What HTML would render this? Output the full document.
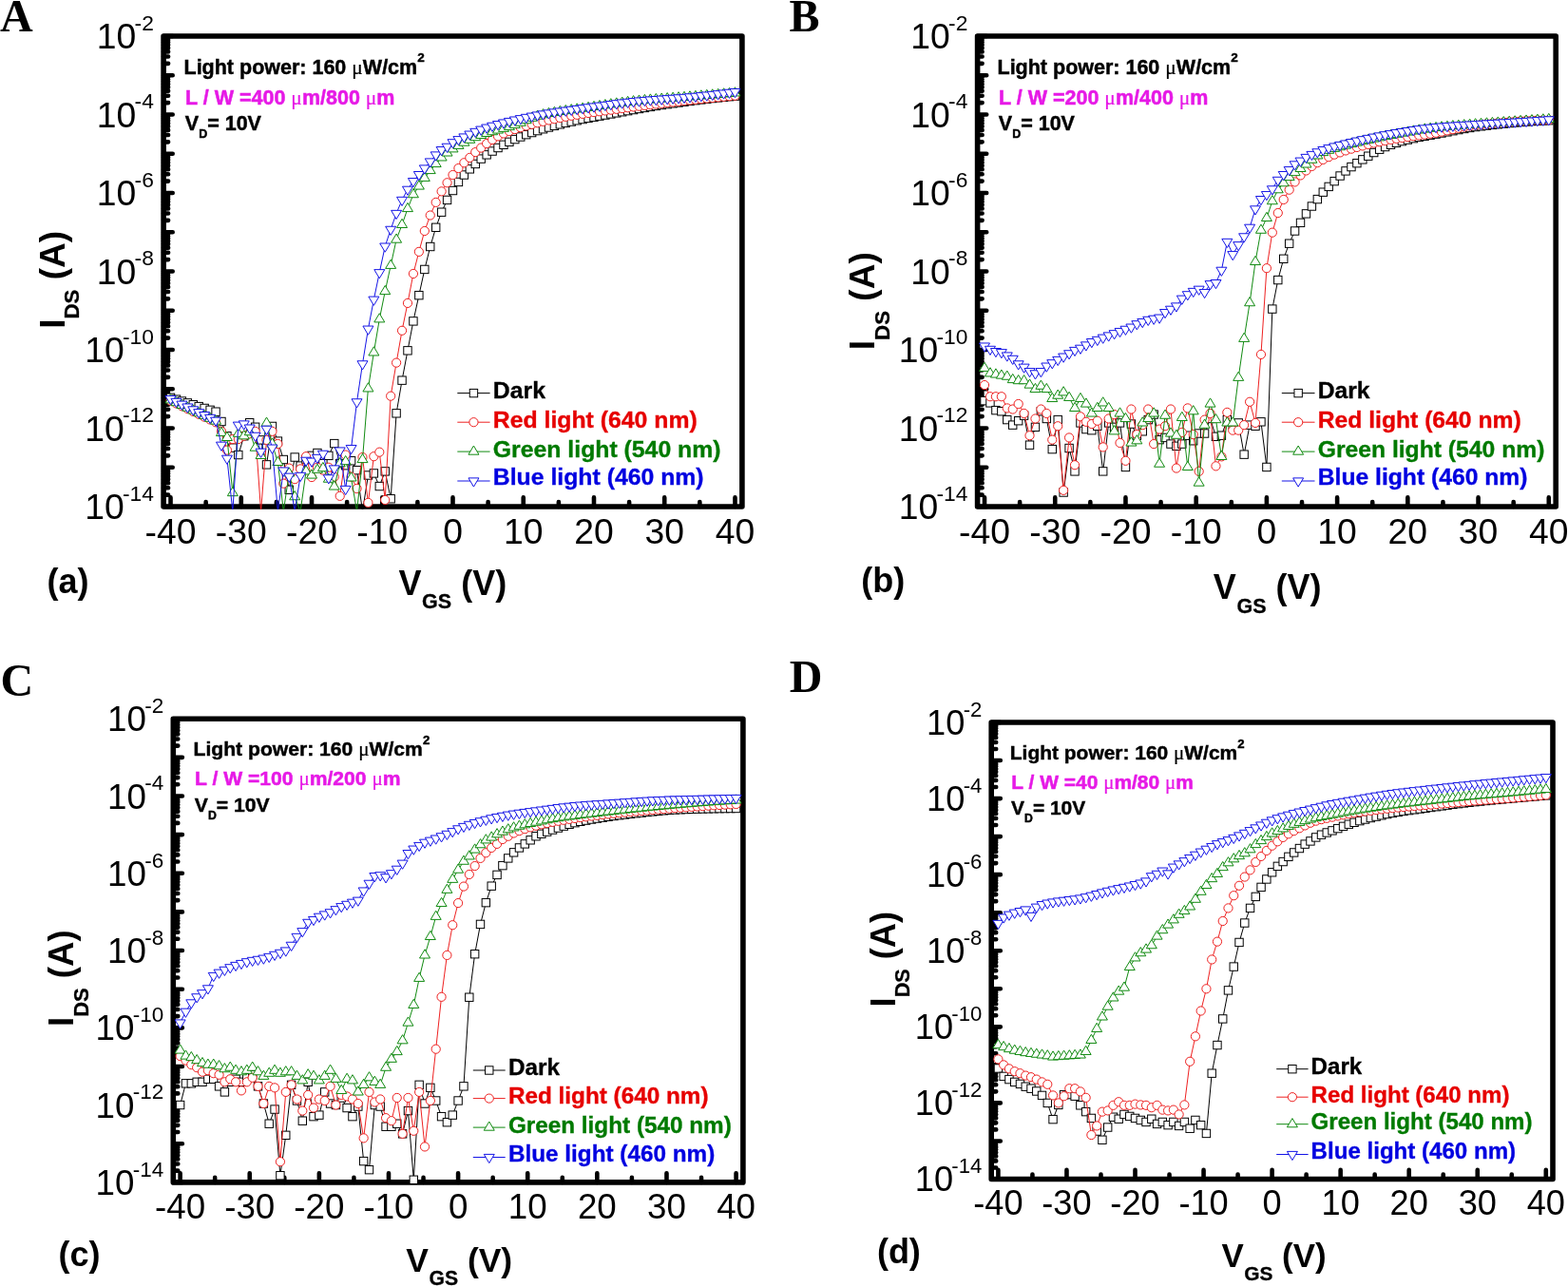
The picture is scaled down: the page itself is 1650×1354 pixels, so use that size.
<!DOCTYPE html>
<html><head><meta charset="utf-8"><title>Transfer characteristics</title>
<style>html,body{margin:0;padding:0;background:#fff;}svg{display:block;}</style></head>
<body>
<svg width="1650" height="1354" viewBox="0 0 1650 1354" font-family="Liberation Sans, Arial, sans-serif">
<rect width="1650" height="1354" fill="#fff"/>
<clipPath id="clipA"><rect x="169.3" y="35.2" width="614.4" height="500.6"/></clipPath>
<rect x="172.1" y="38" width="608.8" height="495" fill="none" stroke="#000" stroke-width="5.6" stroke-linejoin="round"/>
<path d="M172.1 533h9.6M172.1 520.58h5M172.1 513.32h5M172.1 508.17h5M172.1 504.17h5M172.1 500.9h5M172.1 498.14h5M172.1 495.75h5M172.1 493.64h5M172.1 491.75h9.6M172.1 479.33h5M172.1 472.07h5M172.1 466.92h5M172.1 462.92h5M172.1 459.65h5M172.1 456.89h5M172.1 454.5h5M172.1 452.39h5M172.1 450.5h9.6M172.1 438.08h5M172.1 430.82h5M172.1 425.67h5M172.1 421.67h5M172.1 418.4h5M172.1 415.64h5M172.1 413.25h5M172.1 411.14h5M172.1 409.25h9.6M172.1 396.83h5M172.1 389.57h5M172.1 384.42h5M172.1 380.42h5M172.1 377.15h5M172.1 374.39h5M172.1 372h5M172.1 369.89h5M172.1 368h9.6M172.1 355.58h5M172.1 348.32h5M172.1 343.17h5M172.1 339.17h5M172.1 335.9h5M172.1 333.14h5M172.1 330.75h5M172.1 328.64h5M172.1 326.75h9.6M172.1 314.33h5M172.1 307.07h5M172.1 301.92h5M172.1 297.92h5M172.1 294.65h5M172.1 291.89h5M172.1 289.5h5M172.1 287.39h5M172.1 285.5h9.6M172.1 273.08h5M172.1 265.82h5M172.1 260.67h5M172.1 256.67h5M172.1 253.4h5M172.1 250.64h5M172.1 248.25h5M172.1 246.14h5M172.1 244.25h9.6M172.1 231.83h5M172.1 224.57h5M172.1 219.42h5M172.1 215.42h5M172.1 212.15h5M172.1 209.39h5M172.1 207h5M172.1 204.89h5M172.1 203h9.6M172.1 190.58h5M172.1 183.32h5M172.1 178.17h5M172.1 174.17h5M172.1 170.9h5M172.1 168.14h5M172.1 165.75h5M172.1 163.64h5M172.1 161.75h9.6M172.1 149.33h5M172.1 142.07h5M172.1 136.92h5M172.1 132.92h5M172.1 129.65h5M172.1 126.89h5M172.1 124.5h5M172.1 122.39h5M172.1 120.5h9.6M172.1 108.08h5M172.1 100.82h5M172.1 95.67h5M172.1 91.67h5M172.1 88.4h5M172.1 85.64h5M172.1 83.25h5M172.1 81.14h5M172.1 79.25h9.6M172.1 66.83h5M172.1 59.57h5M172.1 54.42h5M172.1 50.42h5M172.1 47.15h5M172.1 44.39h5M172.1 42h5M172.1 39.89h5M172.1 38h9.6M179.52 533v-9.6M216.65 533v-5M253.77 533v-9.6M290.89 533v-5M328.01 533v-9.6M365.13 533v-5M402.26 533v-9.6M439.38 533v-5M476.5 533v-9.6M513.62 533v-5M550.74 533v-9.6M587.87 533v-5M624.99 533v-9.6M662.11 533v-5M699.23 533v-9.6M736.35 533v-5M773.48 533v-9.6" stroke="#000" stroke-width="4.6" stroke-linecap="round" fill="none"/>
<g clip-path="url(#clipA)">
<polyline fill="none" stroke="#000000" stroke-width="1" points="179.52,418.33 185.46,420.18 191.4,422.04 197.34,423.89 203.28,425.75 209.22,427.61 215.16,429.46 221.1,431.32 227.04,433.18 232.98,443.49 238.92,458.75 244.86,471.12 250.8,478.55 256.74,458.75 262.68,444.72 268.62,449.26 274.56,462.88 280.5,488.86 286.44,448.44 292.38,464.11 298.31,483.5 304.25,515.26 310.19,481.03 316.13,490.1 322.07,483.5 328.01,479.37 333.95,476.49 339.89,487.62 345.83,479.37 351.77,466.59 357.71,487.62 363.65,489.69 369.59,484.74 375.53,494.64 381.47,537.95 387.41,500 393.35,497.94 399.29,511.55 405.23,495.88 411.17,524.75 417.1,434.82 423.04,400.17 428.98,368.82 434.92,337.89 440.86,310.66 446.8,283.44 452.74,259.51 458.68,239.3 464.62,223.21 470.56,210.42 476.5,200.53 482.44,191.45 488.38,184.03 494.32,177.84 500.26,172.47 506.2,167.11 512.14,162.85 518.08,159.05 524.02,155.51 529.96,152.33 535.9,149.37 541.83,146.58 547.77,144.01 553.71,141.67 559.65,139.56 565.59,137.59 571.53,135.75 577.47,134.01 583.41,132.38 589.35,130.85 595.29,129.4 601.23,128.03 607.17,126.75 613.11,125.53 619.05,124.36 624.99,123.23 630.93,122.13 636.87,121.04 642.81,119.95 648.75,118.85 654.69,117.74 660.62,116.63 666.56,115.54 672.5,114.46 678.44,113.41 684.38,112.39 690.32,111.43 696.26,110.51 702.2,109.65 708.14,108.81 714.08,107.99 720.02,107.18 725.96,106.4 731.9,105.64 737.84,104.91 743.78,104.2 749.72,103.52 755.66,102.87 761.6,102.25 767.54,101.66 773.48,101.11"/>
<g fill="#fff" stroke="#000000" stroke-width="1"><rect x="175.32" y="414.13" width="8.4" height="8.4"/><rect x="181.26" y="415.98" width="8.4" height="8.4"/><rect x="187.2" y="417.84" width="8.4" height="8.4"/><rect x="193.14" y="419.69" width="8.4" height="8.4"/><rect x="199.08" y="421.55" width="8.4" height="8.4"/><rect x="205.02" y="423.41" width="8.4" height="8.4"/><rect x="210.96" y="425.26" width="8.4" height="8.4"/><rect x="216.9" y="427.12" width="8.4" height="8.4"/><rect x="222.84" y="428.98" width="8.4" height="8.4"/><rect x="228.78" y="439.29" width="8.4" height="8.4"/><rect x="234.72" y="454.55" width="8.4" height="8.4"/><rect x="240.66" y="466.93" width="8.4" height="8.4"/><rect x="246.6" y="474.35" width="8.4" height="8.4"/><rect x="252.54" y="454.55" width="8.4" height="8.4"/><rect x="258.48" y="440.52" width="8.4" height="8.4"/><rect x="264.42" y="445.06" width="8.4" height="8.4"/><rect x="270.36" y="458.68" width="8.4" height="8.4"/><rect x="276.3" y="484.66" width="8.4" height="8.4"/><rect x="282.24" y="444.24" width="8.4" height="8.4"/><rect x="288.18" y="459.91" width="8.4" height="8.4"/><rect x="294.11" y="479.3" width="8.4" height="8.4"/><rect x="300.05" y="511.06" width="8.4" height="8.4"/><rect x="305.99" y="476.83" width="8.4" height="8.4"/><rect x="311.93" y="485.9" width="8.4" height="8.4"/><rect x="317.87" y="479.3" width="8.4" height="8.4"/><rect x="323.81" y="475.17" width="8.4" height="8.4"/><rect x="329.75" y="472.29" width="8.4" height="8.4"/><rect x="335.69" y="483.43" width="8.4" height="8.4"/><rect x="341.63" y="475.17" width="8.4" height="8.4"/><rect x="347.57" y="462.39" width="8.4" height="8.4"/><rect x="353.51" y="483.43" width="8.4" height="8.4"/><rect x="359.45" y="485.49" width="8.4" height="8.4"/><rect x="365.39" y="480.54" width="8.4" height="8.4"/><rect x="371.33" y="490.44" width="8.4" height="8.4"/><rect x="383.21" y="495.8" width="8.4" height="8.4"/><rect x="389.15" y="493.74" width="8.4" height="8.4"/><rect x="395.09" y="507.35" width="8.4" height="8.4"/><rect x="401.03" y="491.68" width="8.4" height="8.4"/><rect x="406.97" y="520.55" width="8.4" height="8.4"/><rect x="412.9" y="430.62" width="8.4" height="8.4"/><rect x="418.84" y="395.97" width="8.4" height="8.4"/><rect x="424.78" y="364.62" width="8.4" height="8.4"/><rect x="430.72" y="333.69" width="8.4" height="8.4"/><rect x="436.66" y="306.46" width="8.4" height="8.4"/><rect x="442.6" y="279.24" width="8.4" height="8.4"/><rect x="448.54" y="255.31" width="8.4" height="8.4"/><rect x="454.48" y="235.1" width="8.4" height="8.4"/><rect x="460.42" y="219.01" width="8.4" height="8.4"/><rect x="466.36" y="206.22" width="8.4" height="8.4"/><rect x="472.3" y="196.33" width="8.4" height="8.4"/><rect x="478.24" y="187.25" width="8.4" height="8.4"/><rect x="484.18" y="179.83" width="8.4" height="8.4"/><rect x="490.12" y="173.64" width="8.4" height="8.4"/><rect x="496.06" y="168.28" width="8.4" height="8.4"/><rect x="502" y="162.91" width="8.4" height="8.4"/><rect x="507.94" y="158.65" width="8.4" height="8.4"/><rect x="513.88" y="154.85" width="8.4" height="8.4"/><rect x="519.82" y="151.31" width="8.4" height="8.4"/><rect x="525.76" y="148.13" width="8.4" height="8.4"/><rect x="531.7" y="145.17" width="8.4" height="8.4"/><rect x="537.63" y="142.38" width="8.4" height="8.4"/><rect x="543.57" y="139.81" width="8.4" height="8.4"/><rect x="549.51" y="137.47" width="8.4" height="8.4"/><rect x="555.45" y="135.36" width="8.4" height="8.4"/><rect x="561.39" y="133.39" width="8.4" height="8.4"/><rect x="567.33" y="131.55" width="8.4" height="8.4"/><rect x="573.27" y="129.81" width="8.4" height="8.4"/><rect x="579.21" y="128.18" width="8.4" height="8.4"/><rect x="585.15" y="126.65" width="8.4" height="8.4"/><rect x="591.09" y="125.2" width="8.4" height="8.4"/><rect x="597.03" y="123.83" width="8.4" height="8.4"/><rect x="602.97" y="122.55" width="8.4" height="8.4"/><rect x="608.91" y="121.33" width="8.4" height="8.4"/><rect x="614.85" y="120.16" width="8.4" height="8.4"/><rect x="620.79" y="119.03" width="8.4" height="8.4"/><rect x="626.73" y="117.93" width="8.4" height="8.4"/><rect x="632.67" y="116.84" width="8.4" height="8.4"/><rect x="638.61" y="115.75" width="8.4" height="8.4"/><rect x="644.55" y="114.65" width="8.4" height="8.4"/><rect x="650.49" y="113.54" width="8.4" height="8.4"/><rect x="656.42" y="112.43" width="8.4" height="8.4"/><rect x="662.36" y="111.34" width="8.4" height="8.4"/><rect x="668.3" y="110.26" width="8.4" height="8.4"/><rect x="674.24" y="109.21" width="8.4" height="8.4"/><rect x="680.18" y="108.19" width="8.4" height="8.4"/><rect x="686.12" y="107.23" width="8.4" height="8.4"/><rect x="692.06" y="106.31" width="8.4" height="8.4"/><rect x="698" y="105.45" width="8.4" height="8.4"/><rect x="703.94" y="104.61" width="8.4" height="8.4"/><rect x="709.88" y="103.79" width="8.4" height="8.4"/><rect x="715.82" y="102.98" width="8.4" height="8.4"/><rect x="721.76" y="102.2" width="8.4" height="8.4"/><rect x="727.7" y="101.44" width="8.4" height="8.4"/><rect x="733.64" y="100.71" width="8.4" height="8.4"/><rect x="739.58" y="100" width="8.4" height="8.4"/><rect x="745.52" y="99.32" width="8.4" height="8.4"/><rect x="751.46" y="98.67" width="8.4" height="8.4"/><rect x="757.4" y="98.05" width="8.4" height="8.4"/><rect x="763.34" y="97.46" width="8.4" height="8.4"/><rect x="769.28" y="96.91" width="8.4" height="8.4"/></g>
<polyline fill="none" stroke="#ee2020" stroke-width="1" points="179.52,421.63 185.46,424.47 191.4,427.32 197.34,430.12 203.28,432.97 209.22,435.81 215.16,438.66 221.1,441.47 227.04,444.31 232.98,453.8 238.92,473.6 244.86,462.05 250.8,462.05 256.74,458.75 262.68,456.28 268.62,453.8 274.56,537.95 280.5,462.88 286.44,453.8 292.38,467 298.31,508.66 304.25,492.57 310.19,504.13 316.13,493.4 322.07,480.2 328.01,502.06 333.95,491.75 339.89,494.64 345.83,491.75 351.77,501.65 357.71,521.86 363.65,478.55 369.59,501.65 375.53,514.02 381.47,481.03 387.41,528.88 393.35,480.2 399.29,475.66 405.23,525.99 411.17,416.67 417.1,381.61 423.04,347.79 428.98,318.91 434.92,287.98 440.86,264.87 446.8,243.01 452.74,226.51 458.68,212.9 464.62,201.35 470.56,192.27 476.5,184.03 482.44,177.01 488.38,171.24 494.32,165.87 500.26,160.1 506.2,155.56 512.14,151.05 518.08,147.02 524.02,143.38 529.96,140.48 535.9,138.11 541.83,136.04 547.77,134.18 553.71,132.46 559.65,130.84 565.59,129.29 571.53,127.83 577.47,126.46 583.41,125.17 589.35,123.96 595.29,122.84 601.23,121.79 607.17,120.8 613.11,119.87 619.05,118.97 624.99,118.11 630.93,117.28 636.87,116.46 642.81,115.65 648.75,114.83 654.69,114.02 660.62,113.23 666.56,112.45 672.5,111.69 678.44,110.94 684.38,110.21 690.32,109.5 696.26,108.8 702.2,108.11 708.14,107.44 714.08,106.77 720.02,106.11 725.96,105.46 731.9,104.82 737.84,104.2 743.78,103.58 749.72,102.98 755.66,102.39 761.6,101.81 767.54,101.25 773.48,100.7"/>
<g fill="#fff" stroke="#ee2020" stroke-width="1"><circle cx="179.52" cy="421.63" r="4.6"/><circle cx="185.46" cy="424.47" r="4.6"/><circle cx="191.4" cy="427.32" r="4.6"/><circle cx="197.34" cy="430.12" r="4.6"/><circle cx="203.28" cy="432.97" r="4.6"/><circle cx="209.22" cy="435.81" r="4.6"/><circle cx="215.16" cy="438.66" r="4.6"/><circle cx="221.1" cy="441.47" r="4.6"/><circle cx="227.04" cy="444.31" r="4.6"/><circle cx="232.98" cy="453.8" r="4.6"/><circle cx="238.92" cy="473.6" r="4.6"/><circle cx="244.86" cy="462.05" r="4.6"/><circle cx="250.8" cy="462.05" r="4.6"/><circle cx="256.74" cy="458.75" r="4.6"/><circle cx="262.68" cy="456.28" r="4.6"/><circle cx="268.62" cy="453.8" r="4.6"/><circle cx="280.5" cy="462.88" r="4.6"/><circle cx="286.44" cy="453.8" r="4.6"/><circle cx="292.38" cy="467" r="4.6"/><circle cx="298.31" cy="508.66" r="4.6"/><circle cx="304.25" cy="492.57" r="4.6"/><circle cx="310.19" cy="504.13" r="4.6"/><circle cx="316.13" cy="493.4" r="4.6"/><circle cx="322.07" cy="480.2" r="4.6"/><circle cx="328.01" cy="502.06" r="4.6"/><circle cx="333.95" cy="491.75" r="4.6"/><circle cx="339.89" cy="494.64" r="4.6"/><circle cx="345.83" cy="491.75" r="4.6"/><circle cx="351.77" cy="501.65" r="4.6"/><circle cx="357.71" cy="521.86" r="4.6"/><circle cx="363.65" cy="478.55" r="4.6"/><circle cx="369.59" cy="501.65" r="4.6"/><circle cx="375.53" cy="514.02" r="4.6"/><circle cx="381.47" cy="481.03" r="4.6"/><circle cx="387.41" cy="528.88" r="4.6"/><circle cx="393.35" cy="480.2" r="4.6"/><circle cx="399.29" cy="475.66" r="4.6"/><circle cx="405.23" cy="525.99" r="4.6"/><circle cx="411.17" cy="416.67" r="4.6"/><circle cx="417.1" cy="381.61" r="4.6"/><circle cx="423.04" cy="347.79" r="4.6"/><circle cx="428.98" cy="318.91" r="4.6"/><circle cx="434.92" cy="287.98" r="4.6"/><circle cx="440.86" cy="264.87" r="4.6"/><circle cx="446.8" cy="243.01" r="4.6"/><circle cx="452.74" cy="226.51" r="4.6"/><circle cx="458.68" cy="212.9" r="4.6"/><circle cx="464.62" cy="201.35" r="4.6"/><circle cx="470.56" cy="192.27" r="4.6"/><circle cx="476.5" cy="184.03" r="4.6"/><circle cx="482.44" cy="177.01" r="4.6"/><circle cx="488.38" cy="171.24" r="4.6"/><circle cx="494.32" cy="165.87" r="4.6"/><circle cx="500.26" cy="160.1" r="4.6"/><circle cx="506.2" cy="155.56" r="4.6"/><circle cx="512.14" cy="151.05" r="4.6"/><circle cx="518.08" cy="147.02" r="4.6"/><circle cx="524.02" cy="143.38" r="4.6"/><circle cx="529.96" cy="140.48" r="4.6"/><circle cx="535.9" cy="138.11" r="4.6"/><circle cx="541.83" cy="136.04" r="4.6"/><circle cx="547.77" cy="134.18" r="4.6"/><circle cx="553.71" cy="132.46" r="4.6"/><circle cx="559.65" cy="130.84" r="4.6"/><circle cx="565.59" cy="129.29" r="4.6"/><circle cx="571.53" cy="127.83" r="4.6"/><circle cx="577.47" cy="126.46" r="4.6"/><circle cx="583.41" cy="125.17" r="4.6"/><circle cx="589.35" cy="123.96" r="4.6"/><circle cx="595.29" cy="122.84" r="4.6"/><circle cx="601.23" cy="121.79" r="4.6"/><circle cx="607.17" cy="120.8" r="4.6"/><circle cx="613.11" cy="119.87" r="4.6"/><circle cx="619.05" cy="118.97" r="4.6"/><circle cx="624.99" cy="118.11" r="4.6"/><circle cx="630.93" cy="117.28" r="4.6"/><circle cx="636.87" cy="116.46" r="4.6"/><circle cx="642.81" cy="115.65" r="4.6"/><circle cx="648.75" cy="114.83" r="4.6"/><circle cx="654.69" cy="114.02" r="4.6"/><circle cx="660.62" cy="113.23" r="4.6"/><circle cx="666.56" cy="112.45" r="4.6"/><circle cx="672.5" cy="111.69" r="4.6"/><circle cx="678.44" cy="110.94" r="4.6"/><circle cx="684.38" cy="110.21" r="4.6"/><circle cx="690.32" cy="109.5" r="4.6"/><circle cx="696.26" cy="108.8" r="4.6"/><circle cx="702.2" cy="108.11" r="4.6"/><circle cx="708.14" cy="107.44" r="4.6"/><circle cx="714.08" cy="106.77" r="4.6"/><circle cx="720.02" cy="106.11" r="4.6"/><circle cx="725.96" cy="105.46" r="4.6"/><circle cx="731.9" cy="104.82" r="4.6"/><circle cx="737.84" cy="104.2" r="4.6"/><circle cx="743.78" cy="103.58" r="4.6"/><circle cx="749.72" cy="102.98" r="4.6"/><circle cx="755.66" cy="102.39" r="4.6"/><circle cx="761.6" cy="101.81" r="4.6"/><circle cx="767.54" cy="101.25" r="4.6"/><circle cx="773.48" cy="100.7" r="4.6"/></g>
<polyline fill="none" stroke="#108a10" stroke-width="1" points="179.52,420.8 185.46,423.61 191.4,426.37 197.34,429.13 203.28,431.94 209.22,434.7 215.16,437.51 221.1,440.27 227.04,443.07 232.98,455.45 238.92,460.4 244.86,518.56 250.8,456.28 256.74,458.75 262.68,454.62 268.62,471.12 274.56,479.37 280.5,445.14 286.44,467 292.38,486.39 298.31,537.95 304.25,497.94 310.19,522.69 316.13,537.95 322.07,495.88 328.01,500 333.95,494.23 339.89,492.57 345.83,504.13 351.77,511.96 357.71,487.62 363.65,485.56 369.59,502.89 375.53,537.95 381.47,483.5 387.41,408.84 393.35,370.89 399.29,335.82 405.23,306.54 411.17,279.31 417.1,252.09 423.04,236.41 428.98,219.5 434.92,204.65 440.86,195.99 446.8,187.33 452.74,179.49 458.68,172.47 464.62,165.87 470.56,160.93 476.5,156.8 482.44,153.32 488.38,150.11 494.32,147.19 500.26,144.6 506.2,142.36 512.14,140.41 518.08,138.64 524.02,136.97 529.96,135.29 535.9,133.51 541.83,131.52 547.77,129.17 553.71,126.62 559.65,124.17 565.59,122.12 571.53,120.65 577.47,119.44 583.41,118.36 589.35,117.4 595.29,116.53 601.23,115.7 607.17,114.91 613.11,114.12 619.05,113.29 624.99,112.42 630.93,111.54 636.87,110.66 642.81,109.79 648.75,108.95 654.69,108.15 660.62,107.39 666.56,106.69 672.5,106.06 678.44,105.5 684.38,104.99 690.32,104.52 696.26,104.07 702.2,103.65 708.14,103.22 714.08,102.79 720.02,102.35 725.96,101.88 731.9,101.39 737.84,100.89 743.78,100.39 749.72,99.89 755.66,99.38 761.6,98.86 767.54,98.34 773.48,97.81"/>
<g fill="#fff" stroke="#108a10" stroke-width="1"><path d="M179.52 414.7L185.02 423.9H174.02Z"/><path d="M185.46 417.5L190.96 426.71H179.96Z"/><path d="M191.4 420.27L196.9 429.47H185.9Z"/><path d="M197.34 423.03L202.84 432.23H191.84Z"/><path d="M203.28 425.84L208.78 435.04H197.78Z"/><path d="M209.22 428.6L214.72 437.8H203.72Z"/><path d="M215.16 431.41L220.66 440.61H209.66Z"/><path d="M221.1 434.17L226.6 443.37H215.6Z"/><path d="M227.04 436.97L232.54 446.18H221.54Z"/><path d="M232.98 449.35L238.48 458.55H227.48Z"/><path d="M238.92 454.3L244.42 463.5H233.42Z"/><path d="M244.86 512.46L250.36 521.66H239.36Z"/><path d="M250.8 450.18L256.3 459.38H245.3Z"/><path d="M256.74 452.65L262.24 461.85H251.24Z"/><path d="M262.68 448.52L268.18 457.73H257.18Z"/><path d="M268.62 465.02L274.12 474.23H263.12Z"/><path d="M274.56 473.27L280.06 482.47H269.06Z"/><path d="M280.5 439.04L286 448.24H275Z"/><path d="M286.44 460.9L291.94 470.1H280.94Z"/><path d="M292.38 480.29L297.88 489.49H286.88Z"/><path d="M304.25 491.84L309.75 501.04H298.75Z"/><path d="M310.19 516.59L315.69 525.79H304.69Z"/><path d="M322.07 489.77L327.57 498.98H316.57Z"/><path d="M328.01 493.9L333.51 503.1H322.51Z"/><path d="M333.95 488.12L339.45 497.33H328.45Z"/><path d="M339.89 486.47L345.39 495.68H334.39Z"/><path d="M345.83 498.03L351.33 507.23H340.33Z"/><path d="M351.77 505.86L357.27 515.06H346.27Z"/><path d="M357.71 481.52L363.21 490.73H352.21Z"/><path d="M363.65 479.46L369.15 488.66H358.15Z"/><path d="M369.59 496.79L375.09 505.99H364.09Z"/><path d="M381.47 477.4L386.97 486.6H375.97Z"/><path d="M387.41 402.74L392.91 411.94H381.91Z"/><path d="M393.35 364.79L398.85 373.99H387.85Z"/><path d="M399.29 329.72L404.79 338.92H393.79Z"/><path d="M405.23 300.44L410.73 309.64H399.73Z"/><path d="M411.17 273.21L416.67 282.41H405.67Z"/><path d="M417.1 245.99L422.6 255.19H411.6Z"/><path d="M423.04 230.31L428.54 239.51H417.54Z"/><path d="M428.98 213.4L434.48 222.6H423.48Z"/><path d="M434.92 198.55L440.42 207.75H429.42Z"/><path d="M440.86 189.89L446.36 199.09H435.36Z"/><path d="M446.8 181.23L452.3 190.43H441.3Z"/><path d="M452.74 173.39L458.24 182.59H447.24Z"/><path d="M458.68 166.38L464.18 175.57H453.18Z"/><path d="M464.62 159.77L470.12 168.97H459.12Z"/><path d="M470.56 154.83L476.06 164.03H465.06Z"/><path d="M476.5 150.7L482 159.9H471Z"/><path d="M482.44 147.22L487.94 156.42H476.94Z"/><path d="M488.38 144.01L493.88 153.21H482.88Z"/><path d="M494.32 141.09L499.82 150.29H488.82Z"/><path d="M500.26 138.5L505.76 147.7H494.76Z"/><path d="M506.2 136.26L511.7 145.46H500.7Z"/><path d="M512.14 134.31L517.64 143.51H506.64Z"/><path d="M518.08 132.54L523.58 141.74H512.58Z"/><path d="M524.02 130.87L529.52 140.07H518.52Z"/><path d="M529.96 129.19L535.46 138.39H524.46Z"/><path d="M535.9 127.41L541.4 136.61H530.4Z"/><path d="M541.83 125.42L547.33 134.62H536.33Z"/><path d="M547.77 123.07L553.27 132.27H542.27Z"/><path d="M553.71 120.52L559.21 129.72H548.21Z"/><path d="M559.65 118.07L565.15 127.27H554.15Z"/><path d="M565.59 116.02L571.09 125.22H560.09Z"/><path d="M571.53 114.55L577.03 123.75H566.03Z"/><path d="M577.47 113.34L582.97 122.54H571.97Z"/><path d="M583.41 112.26L588.91 121.46H577.91Z"/><path d="M589.35 111.3L594.85 120.5H583.85Z"/><path d="M595.29 110.43L600.79 119.63H589.79Z"/><path d="M601.23 109.6L606.73 118.8H595.73Z"/><path d="M607.17 108.81L612.67 118.01H601.67Z"/><path d="M613.11 108.02L618.61 117.22H607.61Z"/><path d="M619.05 107.19L624.55 116.39H613.55Z"/><path d="M624.99 106.32L630.49 115.52H619.49Z"/><path d="M630.93 105.44L636.43 114.64H625.43Z"/><path d="M636.87 104.56L642.37 113.76H631.37Z"/><path d="M642.81 103.69L648.31 112.89H637.31Z"/><path d="M648.75 102.85L654.25 112.05H643.25Z"/><path d="M654.69 102.05L660.19 111.25H649.19Z"/><path d="M660.62 101.29L666.12 110.49H655.12Z"/><path d="M666.56 100.59L672.06 109.79H661.06Z"/><path d="M672.5 99.96L678 109.16H667Z"/><path d="M678.44 99.4L683.94 108.6H672.94Z"/><path d="M684.38 98.89L689.88 108.09H678.88Z"/><path d="M690.32 98.42L695.82 107.62H684.82Z"/><path d="M696.26 97.97L701.76 107.17H690.76Z"/><path d="M702.2 97.55L707.7 106.75H696.7Z"/><path d="M708.14 97.12L713.64 106.32H702.64Z"/><path d="M714.08 96.69L719.58 105.89H708.58Z"/><path d="M720.02 96.25L725.52 105.45H714.52Z"/><path d="M725.96 95.78L731.46 104.98H720.46Z"/><path d="M731.9 95.29L737.4 104.49H726.4Z"/><path d="M737.84 94.79L743.34 103.99H732.34Z"/><path d="M743.78 94.29L749.28 103.49H738.28Z"/><path d="M749.72 93.79L755.22 102.99H744.22Z"/><path d="M755.66 93.28L761.16 102.48H750.16Z"/><path d="M761.6 92.76L767.1 101.96H756.1Z"/><path d="M767.54 92.24L773.04 101.44H762.04Z"/><path d="M773.48 91.71L778.98 100.91H767.98Z"/></g>
<polyline fill="none" stroke="#1414e6" stroke-width="1" points="179.52,419.56 185.46,422.41 191.4,425.21 197.34,428.06 203.28,430.91 209.22,433.75 215.16,436.6 221.1,439.4 227.04,442.25 232.98,468.24 238.92,482.26 244.86,537.95 250.8,447.2 256.74,445.96 262.68,450.09 268.62,458.34 274.56,475.25 280.5,451.32 286.44,471.12 292.38,537.95 298.31,495.05 304.25,501.24 310.19,537.95 316.13,500.41 322.07,484.32 328.01,485.15 333.95,481.44 339.89,477.31 345.83,502.89 351.77,492.99 357.71,474.01 363.65,514.44 369.59,471.54 375.53,422.86 381.47,382.85 387.41,346.14 393.35,315.2 399.29,286.74 405.23,259.1 411.17,241.36 417.1,224.45 423.04,210.42 428.98,199.29 434.92,190.63 440.86,183.61 446.8,177.01 452.74,170 458.68,162.99 464.62,157.62 470.56,154.33 476.5,149.79 482.44,146.7 488.38,144.01 494.32,141.12 500.26,138.42 506.2,136.18 512.14,134.17 518.08,132.32 524.02,130.62 529.96,129.03 535.9,127.51 541.83,126.08 547.77,124.71 553.71,123.42 559.65,122.19 565.59,121.05 571.53,119.97 577.47,118.96 583.41,117.99 589.35,117.07 595.29,116.19 601.23,115.34 607.17,114.51 613.11,113.68 619.05,112.87 624.99,112.05 630.93,111.22 636.87,110.4 642.81,109.59 648.75,108.8 654.69,108.05 660.62,107.34 666.56,106.67 672.5,106.06 678.44,105.52 684.38,105.03 690.32,104.58 696.26,104.15 702.2,103.73 708.14,103.31 714.08,102.87 720.02,102.39 725.96,101.87 731.9,101.3 737.84,100.7 743.78,100.08 749.72,99.42 755.66,98.75 761.6,98.04 767.54,97.32 773.48,96.57"/>
<g fill="#fff" stroke="#1414e6" stroke-width="1"><path d="M179.52 425.66L185.02 416.46H174.02Z"/><path d="M185.46 428.51L190.96 419.31H179.96Z"/><path d="M191.4 431.31L196.9 422.11H185.9Z"/><path d="M197.34 434.16L202.84 424.96H191.84Z"/><path d="M203.28 437.01L208.78 427.81H197.78Z"/><path d="M209.22 439.85L214.72 430.65H203.72Z"/><path d="M215.16 442.7L220.66 433.5H209.66Z"/><path d="M221.1 445.5L226.6 436.3H215.6Z"/><path d="M227.04 448.35L232.54 439.15H221.54Z"/><path d="M232.98 474.34L238.48 465.14H227.48Z"/><path d="M238.92 488.36L244.42 479.16H233.42Z"/><path d="M250.8 453.3L256.3 444.1H245.3Z"/><path d="M256.74 452.06L262.24 442.86H251.24Z"/><path d="M262.68 456.19L268.18 446.99H257.18Z"/><path d="M268.62 464.44L274.12 455.24H263.12Z"/><path d="M274.56 481.35L280.06 472.15H269.06Z"/><path d="M280.5 457.43L286 448.22H275Z"/><path d="M286.44 477.23L291.94 468.02H280.94Z"/><path d="M298.31 501.15L303.81 491.95H292.81Z"/><path d="M304.25 507.34L309.75 498.14H298.75Z"/><path d="M316.13 506.51L321.63 497.31H310.63Z"/><path d="M322.07 490.43L327.57 481.22H316.57Z"/><path d="M328.01 491.25L333.51 482.05H322.51Z"/><path d="M333.95 487.54L339.45 478.34H328.45Z"/><path d="M339.89 483.41L345.39 474.21H334.39Z"/><path d="M345.83 508.99L351.33 499.79H340.33Z"/><path d="M351.77 499.09L357.27 489.89H346.27Z"/><path d="M357.71 480.11L363.21 470.91H352.21Z"/><path d="M363.65 520.54L369.15 511.34H358.15Z"/><path d="M369.59 477.64L375.09 468.44H364.09Z"/><path d="M375.53 428.96L381.03 419.76H370.03Z"/><path d="M381.47 388.95L386.97 379.75H375.97Z"/><path d="M387.41 352.24L392.91 343.04H381.91Z"/><path d="M393.35 321.3L398.85 312.1H387.85Z"/><path d="M399.29 292.84L404.79 283.64H393.79Z"/><path d="M405.23 265.2L410.73 256H399.73Z"/><path d="M411.17 247.46L416.67 238.26H405.67Z"/><path d="M417.1 230.55L422.6 221.35H411.6Z"/><path d="M423.04 216.52L428.54 207.32H417.54Z"/><path d="M428.98 205.39L434.48 196.19H423.48Z"/><path d="M434.92 196.73L440.42 187.53H429.42Z"/><path d="M440.86 189.71L446.36 180.51H435.36Z"/><path d="M446.8 183.11L452.3 173.91H441.3Z"/><path d="M452.74 176.1L458.24 166.9H447.24Z"/><path d="M458.68 169.09L464.18 159.89H453.18Z"/><path d="M464.62 163.72L470.12 154.52H459.12Z"/><path d="M470.56 160.43L476.06 151.23H465.06Z"/><path d="M476.5 155.89L482 146.69H471Z"/><path d="M482.44 152.8L487.94 143.6H476.94Z"/><path d="M488.38 150.11L493.88 140.91H482.88Z"/><path d="M494.32 147.22L499.82 138.02H488.82Z"/><path d="M500.26 144.52L505.76 135.32H494.76Z"/><path d="M506.2 142.28L511.7 133.08H500.7Z"/><path d="M512.14 140.27L517.64 131.07H506.64Z"/><path d="M518.08 138.42L523.58 129.22H512.58Z"/><path d="M524.02 136.72L529.52 127.52H518.52Z"/><path d="M529.96 135.13L535.46 125.93H524.46Z"/><path d="M535.9 133.61L541.4 124.41H530.4Z"/><path d="M541.83 132.18L547.33 122.98H536.33Z"/><path d="M547.77 130.81L553.27 121.61H542.27Z"/><path d="M553.71 129.52L559.21 120.32H548.21Z"/><path d="M559.65 128.29L565.15 119.09H554.15Z"/><path d="M565.59 127.15L571.09 117.95H560.09Z"/><path d="M571.53 126.07L577.03 116.87H566.03Z"/><path d="M577.47 125.06L582.97 115.86H571.97Z"/><path d="M583.41 124.09L588.91 114.89H577.91Z"/><path d="M589.35 123.17L594.85 113.97H583.85Z"/><path d="M595.29 122.29L600.79 113.09H589.79Z"/><path d="M601.23 121.44L606.73 112.24H595.73Z"/><path d="M607.17 120.61L612.67 111.41H601.67Z"/><path d="M613.11 119.78L618.61 110.58H607.61Z"/><path d="M619.05 118.97L624.55 109.77H613.55Z"/><path d="M624.99 118.15L630.49 108.95H619.49Z"/><path d="M630.93 117.32L636.43 108.12H625.43Z"/><path d="M636.87 116.5L642.37 107.3H631.37Z"/><path d="M642.81 115.69L648.31 106.49H637.31Z"/><path d="M648.75 114.9L654.25 105.7H643.25Z"/><path d="M654.69 114.15L660.19 104.95H649.19Z"/><path d="M660.62 113.44L666.12 104.24H655.12Z"/><path d="M666.56 112.77L672.06 103.57H661.06Z"/><path d="M672.5 112.16L678 102.96H667Z"/><path d="M678.44 111.62L683.94 102.42H672.94Z"/><path d="M684.38 111.13L689.88 101.93H678.88Z"/><path d="M690.32 110.68L695.82 101.48H684.82Z"/><path d="M696.26 110.25L701.76 101.05H690.76Z"/><path d="M702.2 109.83L707.7 100.63H696.7Z"/><path d="M708.14 109.41L713.64 100.21H702.64Z"/><path d="M714.08 108.97L719.58 99.77H708.58Z"/><path d="M720.02 108.49L725.52 99.29H714.52Z"/><path d="M725.96 107.97L731.46 98.77H720.46Z"/><path d="M731.9 107.4L737.4 98.2H726.4Z"/><path d="M737.84 106.8L743.34 97.6H732.34Z"/><path d="M743.78 106.18L749.28 96.98H738.28Z"/><path d="M749.72 105.52L755.22 96.32H744.22Z"/><path d="M755.66 104.85L761.16 95.65H750.16Z"/><path d="M761.6 104.14L767.1 94.94H756.1Z"/><path d="M767.54 103.42L773.04 94.22H762.04Z"/><path d="M773.48 102.67L778.98 93.47H767.98Z"/></g>
</g>
<text x="161.9" y="51.3" text-anchor="end" font-size="37.3">10<tspan font-size="22.8" dx="-1.7" dy="-19.6">-2</tspan></text>
<text x="161.9" y="133.8" text-anchor="end" font-size="37.3">10<tspan font-size="22.8" dx="-1.7" dy="-19.6">-4</tspan></text>
<text x="161.9" y="216.3" text-anchor="end" font-size="37.3">10<tspan font-size="22.8" dx="-1.7" dy="-19.6">-6</tspan></text>
<text x="161.9" y="298.8" text-anchor="end" font-size="37.3">10<tspan font-size="22.8" dx="-1.7" dy="-19.6">-8</tspan></text>
<text x="161.9" y="381.3" text-anchor="end" font-size="37.3">10<tspan font-size="22.8" dx="-1.7" dy="-19.6">-10</tspan></text>
<text x="161.9" y="463.8" text-anchor="end" font-size="37.3">10<tspan font-size="22.8" dx="-1.7" dy="-19.6">-12</tspan></text>
<text x="161.9" y="546.3" text-anchor="end" font-size="37.3">10<tspan font-size="22.8" dx="-1.7" dy="-19.6">-14</tspan></text>
<text x="179.52" y="571.5" text-anchor="middle" font-size="37.3">-40</text>
<text x="253.77" y="571.5" text-anchor="middle" font-size="37.3">-30</text>
<text x="328.01" y="571.5" text-anchor="middle" font-size="37.3">-20</text>
<text x="402.26" y="571.5" text-anchor="middle" font-size="37.3">-10</text>
<text x="476.5" y="571.5" text-anchor="middle" font-size="37.3">0</text>
<text x="550.74" y="571.5" text-anchor="middle" font-size="37.3">10</text>
<text x="624.99" y="571.5" text-anchor="middle" font-size="37.3">20</text>
<text x="699.23" y="571.5" text-anchor="middle" font-size="37.3">30</text>
<text x="773.48" y="571.5" text-anchor="middle" font-size="37.3">40</text>
<clipPath id="clipB"><rect x="1025.8" y="35.2" width="614.2" height="500.6"/></clipPath>
<rect x="1028.6" y="38" width="608.6" height="495" fill="none" stroke="#000" stroke-width="5.6" stroke-linejoin="round"/>
<path d="M1028.6 533h9.6M1028.6 520.58h5M1028.6 513.32h5M1028.6 508.17h5M1028.6 504.17h5M1028.6 500.9h5M1028.6 498.14h5M1028.6 495.75h5M1028.6 493.64h5M1028.6 491.75h9.6M1028.6 479.33h5M1028.6 472.07h5M1028.6 466.92h5M1028.6 462.92h5M1028.6 459.65h5M1028.6 456.89h5M1028.6 454.5h5M1028.6 452.39h5M1028.6 450.5h9.6M1028.6 438.08h5M1028.6 430.82h5M1028.6 425.67h5M1028.6 421.67h5M1028.6 418.4h5M1028.6 415.64h5M1028.6 413.25h5M1028.6 411.14h5M1028.6 409.25h9.6M1028.6 396.83h5M1028.6 389.57h5M1028.6 384.42h5M1028.6 380.42h5M1028.6 377.15h5M1028.6 374.39h5M1028.6 372h5M1028.6 369.89h5M1028.6 368h9.6M1028.6 355.58h5M1028.6 348.32h5M1028.6 343.17h5M1028.6 339.17h5M1028.6 335.9h5M1028.6 333.14h5M1028.6 330.75h5M1028.6 328.64h5M1028.6 326.75h9.6M1028.6 314.33h5M1028.6 307.07h5M1028.6 301.92h5M1028.6 297.92h5M1028.6 294.65h5M1028.6 291.89h5M1028.6 289.5h5M1028.6 287.39h5M1028.6 285.5h9.6M1028.6 273.08h5M1028.6 265.82h5M1028.6 260.67h5M1028.6 256.67h5M1028.6 253.4h5M1028.6 250.64h5M1028.6 248.25h5M1028.6 246.14h5M1028.6 244.25h9.6M1028.6 231.83h5M1028.6 224.57h5M1028.6 219.42h5M1028.6 215.42h5M1028.6 212.15h5M1028.6 209.39h5M1028.6 207h5M1028.6 204.89h5M1028.6 203h9.6M1028.6 190.58h5M1028.6 183.32h5M1028.6 178.17h5M1028.6 174.17h5M1028.6 170.9h5M1028.6 168.14h5M1028.6 165.75h5M1028.6 163.64h5M1028.6 161.75h9.6M1028.6 149.33h5M1028.6 142.07h5M1028.6 136.92h5M1028.6 132.92h5M1028.6 129.65h5M1028.6 126.89h5M1028.6 124.5h5M1028.6 122.39h5M1028.6 120.5h9.6M1028.6 108.08h5M1028.6 100.82h5M1028.6 95.67h5M1028.6 91.67h5M1028.6 88.4h5M1028.6 85.64h5M1028.6 83.25h5M1028.6 81.14h5M1028.6 79.25h9.6M1028.6 66.83h5M1028.6 59.57h5M1028.6 54.42h5M1028.6 50.42h5M1028.6 47.15h5M1028.6 44.39h5M1028.6 42h5M1028.6 39.89h5M1028.6 38h9.6M1036.02 533v-9.6M1073.13 533v-5M1110.24 533v-9.6M1147.35 533v-5M1184.46 533v-9.6M1221.57 533v-5M1258.68 533v-9.6M1295.79 533v-5M1332.9 533v-9.6M1370.01 533v-5M1407.12 533v-9.6M1444.23 533v-5M1481.34 533v-9.6M1518.45 533v-5M1555.56 533v-9.6M1592.67 533v-5M1629.78 533v-9.6" stroke="#000" stroke-width="4.6" stroke-linecap="round" fill="none"/>
<g clip-path="url(#clipB)">
<polyline fill="none" stroke="#000000" stroke-width="1" points="1036.02,421.66 1041.96,423.88 1047.9,431.63 1053.83,432.74 1059.77,441.6 1065.71,447.14 1071.65,442.71 1077.58,437.17 1083.52,468.18 1089.46,449.35 1095.4,432.74 1101.34,440.49 1107.27,472.61 1113.21,441.6 1119.15,518.03 1125.09,471.51 1131.02,495.88 1136.96,444.92 1142.9,451.57 1148.84,452.68 1154.77,448.25 1160.71,495.88 1166.65,444.92 1172.59,449.35 1178.52,444.92 1184.46,491.44 1190.4,446.03 1196.34,458.21 1202.27,453.78 1208.21,441.6 1214.15,436.06 1220.09,462.64 1226.02,460.43 1231.96,467.08 1237.9,469.29 1243.84,467.08 1249.77,458.21 1255.71,463.75 1261.65,456 1267.59,456 1273.52,440.49 1279.46,459.32 1285.4,458.21 1291.34,441.6 1297.27,447.14 1303.21,444.92 1309.15,478.15 1315.09,447.14 1321.02,448.25 1326.96,443.81 1332.9,491.44 1338.84,325.1 1344.78,294.57 1350.71,272.3 1356.65,256.21 1362.59,243.01 1368.53,234.35 1374.46,224.86 1380.4,217.02 1386.34,209.6 1392.28,202.18 1398.21,196.4 1404.15,190.62 1410.09,185.03 1416.03,179.9 1421.96,175.59 1427.9,171.65 1433.84,167.86 1439.78,164.22 1445.71,160.54 1451.65,157.21 1457.59,154.52 1463.53,152.26 1469.46,150.34 1475.4,148.62 1481.34,147.07 1487.28,145.66 1493.21,144.4 1499.15,143.27 1505.09,142.2 1511.03,141.12 1516.96,140 1522.9,138.85 1528.84,137.69 1534.78,136.55 1540.71,135.46 1546.65,134.45 1552.59,133.55 1558.53,132.79 1564.46,132.09 1570.4,131.41 1576.34,130.75 1582.28,130.12 1588.22,129.52 1594.15,128.96 1600.09,128.44 1606.03,127.97 1611.97,127.56 1617.9,127.2 1623.84,126.91 1629.78,126.69"/>
<g fill="#fff" stroke="#000000" stroke-width="1"><rect x="1031.82" y="417.46" width="8.4" height="8.4"/><rect x="1037.76" y="419.68" width="8.4" height="8.4"/><rect x="1043.7" y="427.43" width="8.4" height="8.4"/><rect x="1049.63" y="428.54" width="8.4" height="8.4"/><rect x="1055.57" y="437.4" width="8.4" height="8.4"/><rect x="1061.51" y="442.94" width="8.4" height="8.4"/><rect x="1067.45" y="438.51" width="8.4" height="8.4"/><rect x="1073.38" y="432.97" width="8.4" height="8.4"/><rect x="1079.32" y="463.98" width="8.4" height="8.4"/><rect x="1085.26" y="445.15" width="8.4" height="8.4"/><rect x="1091.2" y="428.54" width="8.4" height="8.4"/><rect x="1097.14" y="436.29" width="8.4" height="8.4"/><rect x="1103.07" y="468.41" width="8.4" height="8.4"/><rect x="1109.01" y="437.4" width="8.4" height="8.4"/><rect x="1114.95" y="513.83" width="8.4" height="8.4"/><rect x="1120.89" y="467.31" width="8.4" height="8.4"/><rect x="1126.82" y="491.68" width="8.4" height="8.4"/><rect x="1132.76" y="440.72" width="8.4" height="8.4"/><rect x="1138.7" y="447.37" width="8.4" height="8.4"/><rect x="1144.64" y="448.48" width="8.4" height="8.4"/><rect x="1150.57" y="444.05" width="8.4" height="8.4"/><rect x="1156.51" y="491.68" width="8.4" height="8.4"/><rect x="1162.45" y="440.72" width="8.4" height="8.4"/><rect x="1168.39" y="445.15" width="8.4" height="8.4"/><rect x="1174.32" y="440.72" width="8.4" height="8.4"/><rect x="1180.26" y="487.24" width="8.4" height="8.4"/><rect x="1186.2" y="441.83" width="8.4" height="8.4"/><rect x="1192.14" y="454.01" width="8.4" height="8.4"/><rect x="1198.07" y="449.58" width="8.4" height="8.4"/><rect x="1204.01" y="437.4" width="8.4" height="8.4"/><rect x="1209.95" y="431.86" width="8.4" height="8.4"/><rect x="1215.89" y="458.44" width="8.4" height="8.4"/><rect x="1221.82" y="456.23" width="8.4" height="8.4"/><rect x="1227.76" y="462.88" width="8.4" height="8.4"/><rect x="1233.7" y="465.09" width="8.4" height="8.4"/><rect x="1239.64" y="462.88" width="8.4" height="8.4"/><rect x="1245.57" y="454.01" width="8.4" height="8.4"/><rect x="1251.51" y="459.55" width="8.4" height="8.4"/><rect x="1257.45" y="451.8" width="8.4" height="8.4"/><rect x="1263.39" y="451.8" width="8.4" height="8.4"/><rect x="1269.32" y="436.29" width="8.4" height="8.4"/><rect x="1275.26" y="455.12" width="8.4" height="8.4"/><rect x="1281.2" y="454.01" width="8.4" height="8.4"/><rect x="1287.14" y="437.4" width="8.4" height="8.4"/><rect x="1293.07" y="442.94" width="8.4" height="8.4"/><rect x="1299.01" y="440.72" width="8.4" height="8.4"/><rect x="1304.95" y="473.95" width="8.4" height="8.4"/><rect x="1310.89" y="442.94" width="8.4" height="8.4"/><rect x="1316.82" y="444.05" width="8.4" height="8.4"/><rect x="1322.76" y="439.61" width="8.4" height="8.4"/><rect x="1328.7" y="487.24" width="8.4" height="8.4"/><rect x="1334.64" y="320.9" width="8.4" height="8.4"/><rect x="1340.58" y="290.37" width="8.4" height="8.4"/><rect x="1346.51" y="268.1" width="8.4" height="8.4"/><rect x="1352.45" y="252.01" width="8.4" height="8.4"/><rect x="1358.39" y="238.81" width="8.4" height="8.4"/><rect x="1364.33" y="230.15" width="8.4" height="8.4"/><rect x="1370.26" y="220.66" width="8.4" height="8.4"/><rect x="1376.2" y="212.82" width="8.4" height="8.4"/><rect x="1382.14" y="205.4" width="8.4" height="8.4"/><rect x="1388.08" y="197.98" width="8.4" height="8.4"/><rect x="1394.01" y="192.2" width="8.4" height="8.4"/><rect x="1399.95" y="186.43" width="8.4" height="8.4"/><rect x="1405.89" y="180.83" width="8.4" height="8.4"/><rect x="1411.83" y="175.7" width="8.4" height="8.4"/><rect x="1417.76" y="171.39" width="8.4" height="8.4"/><rect x="1423.7" y="167.45" width="8.4" height="8.4"/><rect x="1429.64" y="163.66" width="8.4" height="8.4"/><rect x="1435.58" y="160.02" width="8.4" height="8.4"/><rect x="1441.51" y="156.34" width="8.4" height="8.4"/><rect x="1447.45" y="153.01" width="8.4" height="8.4"/><rect x="1453.39" y="150.32" width="8.4" height="8.4"/><rect x="1459.33" y="148.06" width="8.4" height="8.4"/><rect x="1465.26" y="146.14" width="8.4" height="8.4"/><rect x="1471.2" y="144.42" width="8.4" height="8.4"/><rect x="1477.14" y="142.87" width="8.4" height="8.4"/><rect x="1483.08" y="141.46" width="8.4" height="8.4"/><rect x="1489.01" y="140.2" width="8.4" height="8.4"/><rect x="1494.95" y="139.07" width="8.4" height="8.4"/><rect x="1500.89" y="138" width="8.4" height="8.4"/><rect x="1506.83" y="136.93" width="8.4" height="8.4"/><rect x="1512.76" y="135.8" width="8.4" height="8.4"/><rect x="1518.7" y="134.65" width="8.4" height="8.4"/><rect x="1524.64" y="133.49" width="8.4" height="8.4"/><rect x="1530.58" y="132.35" width="8.4" height="8.4"/><rect x="1536.51" y="131.26" width="8.4" height="8.4"/><rect x="1542.45" y="130.25" width="8.4" height="8.4"/><rect x="1548.39" y="129.35" width="8.4" height="8.4"/><rect x="1554.33" y="128.59" width="8.4" height="8.4"/><rect x="1560.26" y="127.89" width="8.4" height="8.4"/><rect x="1566.2" y="127.21" width="8.4" height="8.4"/><rect x="1572.14" y="126.55" width="8.4" height="8.4"/><rect x="1578.08" y="125.92" width="8.4" height="8.4"/><rect x="1584.02" y="125.32" width="8.4" height="8.4"/><rect x="1589.95" y="124.76" width="8.4" height="8.4"/><rect x="1595.89" y="124.24" width="8.4" height="8.4"/><rect x="1601.83" y="123.77" width="8.4" height="8.4"/><rect x="1607.77" y="123.36" width="8.4" height="8.4"/><rect x="1613.7" y="123" width="8.4" height="8.4"/><rect x="1619.64" y="122.71" width="8.4" height="8.4"/><rect x="1625.58" y="122.49" width="8.4" height="8.4"/></g>
<polyline fill="none" stroke="#ee2020" stroke-width="1" points="1036.02,405.05 1041.96,417.23 1047.9,417.23 1053.83,417.23 1059.77,429.41 1065.71,430.52 1071.65,424.98 1077.58,434.95 1083.52,458.21 1089.46,440.49 1095.4,430.52 1101.34,434.95 1107.27,462.64 1113.21,448.25 1119.15,515.81 1125.09,460.43 1131.02,489.23 1136.96,438.28 1142.9,443.81 1148.84,446.03 1154.77,442.71 1160.71,470.4 1166.65,440.49 1172.59,436.06 1178.52,465.97 1184.46,484.8 1190.4,430.52 1196.34,457.11 1202.27,447.14 1208.21,430.52 1214.15,467.08 1220.09,451.57 1226.02,448.25 1231.96,430.52 1237.9,492.55 1243.84,454.89 1249.77,429.41 1255.71,457.11 1261.65,495.88 1267.59,441.6 1273.52,434.95 1279.46,490.34 1285.4,480.37 1291.34,433.85 1297.27,452.68 1303.21,452.68 1309.15,447.14 1315.09,422.77 1321.02,444.92 1326.96,372.92 1332.9,282.2 1338.84,244.66 1344.78,224.04 1350.71,210.01 1356.65,199.7 1362.59,191.45 1368.53,184.44 1374.46,179.49 1380.4,174.95 1386.34,171.16 1392.28,167.94 1398.21,165.17 1404.15,162.67 1410.09,160.43 1416.03,158.45 1421.96,156.66 1427.9,154.98 1433.84,153.41 1439.78,151.93 1445.71,150.55 1451.65,149.25 1457.59,148.04 1463.53,146.9 1469.46,145.86 1475.4,144.93 1481.34,144.06 1487.28,143.24 1493.21,142.43 1499.15,141.6 1505.09,140.72 1511.03,139.76 1516.96,138.65 1522.9,137.4 1528.84,136.09 1534.78,134.78 1540.71,133.55 1546.65,132.45 1552.59,131.57 1558.53,130.92 1564.46,130.32 1570.4,129.73 1576.34,129.17 1582.28,128.64 1588.22,128.14 1594.15,127.69 1600.09,127.28 1606.03,126.94 1611.97,126.66 1617.9,126.45 1623.84,126.32 1629.78,126.27"/>
<g fill="#fff" stroke="#ee2020" stroke-width="1"><circle cx="1036.02" cy="405.05" r="4.6"/><circle cx="1041.96" cy="417.23" r="4.6"/><circle cx="1047.9" cy="417.23" r="4.6"/><circle cx="1053.83" cy="417.23" r="4.6"/><circle cx="1059.77" cy="429.41" r="4.6"/><circle cx="1065.71" cy="430.52" r="4.6"/><circle cx="1071.65" cy="424.98" r="4.6"/><circle cx="1077.58" cy="434.95" r="4.6"/><circle cx="1083.52" cy="458.21" r="4.6"/><circle cx="1089.46" cy="440.49" r="4.6"/><circle cx="1095.4" cy="430.52" r="4.6"/><circle cx="1101.34" cy="434.95" r="4.6"/><circle cx="1107.27" cy="462.64" r="4.6"/><circle cx="1113.21" cy="448.25" r="4.6"/><circle cx="1119.15" cy="515.81" r="4.6"/><circle cx="1125.09" cy="460.43" r="4.6"/><circle cx="1131.02" cy="489.23" r="4.6"/><circle cx="1136.96" cy="438.28" r="4.6"/><circle cx="1142.9" cy="443.81" r="4.6"/><circle cx="1148.84" cy="446.03" r="4.6"/><circle cx="1154.77" cy="442.71" r="4.6"/><circle cx="1160.71" cy="470.4" r="4.6"/><circle cx="1166.65" cy="440.49" r="4.6"/><circle cx="1172.59" cy="436.06" r="4.6"/><circle cx="1178.52" cy="465.97" r="4.6"/><circle cx="1184.46" cy="484.8" r="4.6"/><circle cx="1190.4" cy="430.52" r="4.6"/><circle cx="1196.34" cy="457.11" r="4.6"/><circle cx="1202.27" cy="447.14" r="4.6"/><circle cx="1208.21" cy="430.52" r="4.6"/><circle cx="1214.15" cy="467.08" r="4.6"/><circle cx="1220.09" cy="451.57" r="4.6"/><circle cx="1226.02" cy="448.25" r="4.6"/><circle cx="1231.96" cy="430.52" r="4.6"/><circle cx="1237.9" cy="492.55" r="4.6"/><circle cx="1243.84" cy="454.89" r="4.6"/><circle cx="1249.77" cy="429.41" r="4.6"/><circle cx="1255.71" cy="457.11" r="4.6"/><circle cx="1261.65" cy="495.88" r="4.6"/><circle cx="1267.59" cy="441.6" r="4.6"/><circle cx="1273.52" cy="434.95" r="4.6"/><circle cx="1279.46" cy="490.34" r="4.6"/><circle cx="1285.4" cy="480.37" r="4.6"/><circle cx="1291.34" cy="433.85" r="4.6"/><circle cx="1297.27" cy="452.68" r="4.6"/><circle cx="1303.21" cy="452.68" r="4.6"/><circle cx="1309.15" cy="447.14" r="4.6"/><circle cx="1315.09" cy="422.77" r="4.6"/><circle cx="1321.02" cy="444.92" r="4.6"/><circle cx="1326.96" cy="372.92" r="4.6"/><circle cx="1332.9" cy="282.2" r="4.6"/><circle cx="1338.84" cy="244.66" r="4.6"/><circle cx="1344.78" cy="224.04" r="4.6"/><circle cx="1350.71" cy="210.01" r="4.6"/><circle cx="1356.65" cy="199.7" r="4.6"/><circle cx="1362.59" cy="191.45" r="4.6"/><circle cx="1368.53" cy="184.44" r="4.6"/><circle cx="1374.46" cy="179.49" r="4.6"/><circle cx="1380.4" cy="174.95" r="4.6"/><circle cx="1386.34" cy="171.16" r="4.6"/><circle cx="1392.28" cy="167.94" r="4.6"/><circle cx="1398.21" cy="165.17" r="4.6"/><circle cx="1404.15" cy="162.67" r="4.6"/><circle cx="1410.09" cy="160.43" r="4.6"/><circle cx="1416.03" cy="158.45" r="4.6"/><circle cx="1421.96" cy="156.66" r="4.6"/><circle cx="1427.9" cy="154.98" r="4.6"/><circle cx="1433.84" cy="153.41" r="4.6"/><circle cx="1439.78" cy="151.93" r="4.6"/><circle cx="1445.71" cy="150.55" r="4.6"/><circle cx="1451.65" cy="149.25" r="4.6"/><circle cx="1457.59" cy="148.04" r="4.6"/><circle cx="1463.53" cy="146.9" r="4.6"/><circle cx="1469.46" cy="145.86" r="4.6"/><circle cx="1475.4" cy="144.93" r="4.6"/><circle cx="1481.34" cy="144.06" r="4.6"/><circle cx="1487.28" cy="143.24" r="4.6"/><circle cx="1493.21" cy="142.43" r="4.6"/><circle cx="1499.15" cy="141.6" r="4.6"/><circle cx="1505.09" cy="140.72" r="4.6"/><circle cx="1511.03" cy="139.76" r="4.6"/><circle cx="1516.96" cy="138.65" r="4.6"/><circle cx="1522.9" cy="137.4" r="4.6"/><circle cx="1528.84" cy="136.09" r="4.6"/><circle cx="1534.78" cy="134.78" r="4.6"/><circle cx="1540.71" cy="133.55" r="4.6"/><circle cx="1546.65" cy="132.45" r="4.6"/><circle cx="1552.59" cy="131.57" r="4.6"/><circle cx="1558.53" cy="130.92" r="4.6"/><circle cx="1564.46" cy="130.32" r="4.6"/><circle cx="1570.4" cy="129.73" r="4.6"/><circle cx="1576.34" cy="129.17" r="4.6"/><circle cx="1582.28" cy="128.64" r="4.6"/><circle cx="1588.22" cy="128.14" r="4.6"/><circle cx="1594.15" cy="127.69" r="4.6"/><circle cx="1600.09" cy="127.28" r="4.6"/><circle cx="1606.03" cy="126.94" r="4.6"/><circle cx="1611.97" cy="126.66" r="4.6"/><circle cx="1617.9" cy="126.45" r="4.6"/><circle cx="1623.84" cy="126.32" r="4.6"/><circle cx="1629.78" cy="126.27" r="4.6"/></g>
<polyline fill="none" stroke="#108a10" stroke-width="1" points="1036.02,387.32 1041.96,392.86 1047.9,393.97 1053.83,395.08 1059.77,396.18 1065.71,399.51 1071.65,400.61 1077.58,400.61 1083.52,405.05 1089.46,409.48 1095.4,406.15 1101.34,409.48 1107.27,419.45 1113.21,416.12 1119.15,412.8 1125.09,418.34 1131.02,429.41 1136.96,419.45 1142.9,424.98 1148.84,434.95 1154.77,429.41 1160.71,423.88 1166.65,429.41 1172.59,453.78 1178.52,434.95 1184.46,440.49 1190.4,465.97 1196.34,463.75 1202.27,444.92 1208.21,440.49 1214.15,434.95 1220.09,488.12 1226.02,437.17 1231.96,456 1237.9,458.21 1243.84,439.38 1249.77,491.44 1255.71,432.74 1261.65,508.06 1267.59,447.14 1273.52,424.98 1279.46,441.6 1285.4,480.37 1291.34,444.92 1297.27,444.92 1303.21,397.29 1309.15,356.31 1315.09,318.65 1321.02,275.45 1326.96,242.19 1332.9,229.4 1338.84,211.66 1344.78,199.7 1350.71,192.69 1356.65,186.5 1362.59,181.55 1368.53,177.42 1374.46,172.92 1380.4,168.18 1386.34,163.83 1392.28,160.51 1398.21,158.2 1404.15,156.3 1410.09,154.66 1416.03,153.09 1421.96,151.54 1427.9,150.06 1433.84,148.64 1439.78,147.28 1445.71,145.98 1451.65,144.73 1457.59,143.52 1463.53,142.36 1469.46,141.22 1475.4,140.09 1481.34,138.98 1487.28,137.92 1493.21,136.92 1499.15,136 1505.09,135.17 1511.03,134.44 1516.96,133.8 1522.9,133.22 1528.84,132.68 1534.78,132.18 1540.71,131.71 1546.65,131.25 1552.59,130.8 1558.53,130.34 1564.46,129.9 1570.4,129.47 1576.34,129.05 1582.28,128.65 1588.22,128.25 1594.15,127.85 1600.09,127.45 1606.03,127.05 1611.97,126.65 1617.9,126.25 1623.84,125.85 1629.78,125.45"/>
<g fill="#fff" stroke="#108a10" stroke-width="1"><path d="M1036.02 381.22L1041.52 390.42H1030.52Z"/><path d="M1041.96 386.76L1047.46 395.96H1036.46Z"/><path d="M1047.9 387.87L1053.4 397.07H1042.4Z"/><path d="M1053.83 388.98L1059.33 398.18H1048.33Z"/><path d="M1059.77 390.08L1065.27 399.28H1054.27Z"/><path d="M1065.71 393.41L1071.21 402.61H1060.21Z"/><path d="M1071.65 394.51L1077.15 403.71H1066.15Z"/><path d="M1077.58 394.51L1083.08 403.71H1072.08Z"/><path d="M1083.52 398.95L1089.02 408.15H1078.02Z"/><path d="M1089.46 403.38L1094.96 412.58H1083.96Z"/><path d="M1095.4 400.05L1100.9 409.25H1089.9Z"/><path d="M1101.34 403.38L1106.84 412.58H1095.84Z"/><path d="M1107.27 413.35L1112.77 422.55H1101.77Z"/><path d="M1113.21 410.02L1118.71 419.22H1107.71Z"/><path d="M1119.15 406.7L1124.65 415.9H1113.65Z"/><path d="M1125.09 412.24L1130.59 421.44H1119.59Z"/><path d="M1131.02 423.31L1136.52 432.51H1125.52Z"/><path d="M1136.96 413.35L1142.46 422.55H1131.46Z"/><path d="M1142.9 418.88L1148.4 428.08H1137.4Z"/><path d="M1148.84 428.85L1154.34 438.05H1143.34Z"/><path d="M1154.77 423.31L1160.27 432.51H1149.27Z"/><path d="M1160.71 417.78L1166.21 426.98H1155.21Z"/><path d="M1166.65 423.31L1172.15 432.51H1161.15Z"/><path d="M1172.59 447.68L1178.09 456.88H1167.09Z"/><path d="M1178.52 428.85L1184.02 438.05H1173.02Z"/><path d="M1184.46 434.39L1189.96 443.59H1178.96Z"/><path d="M1190.4 459.87L1195.9 469.07H1184.9Z"/><path d="M1196.34 457.65L1201.84 466.85H1190.84Z"/><path d="M1202.27 438.82L1207.77 448.02H1196.77Z"/><path d="M1208.21 434.39L1213.71 443.59H1202.71Z"/><path d="M1214.15 428.85L1219.65 438.05H1208.65Z"/><path d="M1220.09 482.02L1225.59 491.22H1214.59Z"/><path d="M1226.02 431.07L1231.52 440.27H1220.52Z"/><path d="M1231.96 449.9L1237.46 459.1H1226.46Z"/><path d="M1237.9 452.11L1243.4 461.31H1232.4Z"/><path d="M1243.84 433.28L1249.34 442.48H1238.34Z"/><path d="M1249.77 485.34L1255.27 494.54H1244.27Z"/><path d="M1255.71 426.64L1261.21 435.84H1250.21Z"/><path d="M1261.65 501.96L1267.15 511.16H1256.15Z"/><path d="M1267.59 441.04L1273.09 450.24H1262.09Z"/><path d="M1273.52 418.88L1279.02 428.08H1268.02Z"/><path d="M1279.46 435.5L1284.96 444.7H1273.96Z"/><path d="M1285.4 474.27L1290.9 483.47H1279.9Z"/><path d="M1291.34 438.82L1296.84 448.02H1285.84Z"/><path d="M1297.27 438.82L1302.77 448.02H1291.77Z"/><path d="M1303.21 391.19L1308.71 400.39H1297.71Z"/><path d="M1309.15 350.21L1314.65 359.41H1303.65Z"/><path d="M1315.09 312.55L1320.59 321.75H1309.59Z"/><path d="M1321.02 269.35L1326.52 278.55H1315.52Z"/><path d="M1326.96 236.09L1332.46 245.29H1321.46Z"/><path d="M1332.9 223.3L1338.4 232.5H1327.4Z"/><path d="M1338.84 205.56L1344.34 214.76H1333.34Z"/><path d="M1344.78 193.6L1350.28 202.8H1339.28Z"/><path d="M1350.71 186.59L1356.21 195.79H1345.21Z"/><path d="M1356.65 180.4L1362.15 189.6H1351.15Z"/><path d="M1362.59 175.45L1368.09 184.65H1357.09Z"/><path d="M1368.53 171.32L1374.03 180.52H1363.03Z"/><path d="M1374.46 166.82L1379.96 176.02H1368.96Z"/><path d="M1380.4 162.08L1385.9 171.28H1374.9Z"/><path d="M1386.34 157.73L1391.84 166.93H1380.84Z"/><path d="M1392.28 154.41L1397.78 163.61H1386.78Z"/><path d="M1398.21 152.1L1403.71 161.3H1392.71Z"/><path d="M1404.15 150.2L1409.65 159.4H1398.65Z"/><path d="M1410.09 148.56L1415.59 157.76H1404.59Z"/><path d="M1416.03 146.99L1421.53 156.19H1410.53Z"/><path d="M1421.96 145.44L1427.46 154.64H1416.46Z"/><path d="M1427.9 143.96L1433.4 153.16H1422.4Z"/><path d="M1433.84 142.54L1439.34 151.74H1428.34Z"/><path d="M1439.78 141.18L1445.28 150.38H1434.28Z"/><path d="M1445.71 139.88L1451.21 149.08H1440.21Z"/><path d="M1451.65 138.63L1457.15 147.83H1446.15Z"/><path d="M1457.59 137.42L1463.09 146.62H1452.09Z"/><path d="M1463.53 136.26L1469.03 145.46H1458.03Z"/><path d="M1469.46 135.12L1474.96 144.32H1463.96Z"/><path d="M1475.4 133.99L1480.9 143.19H1469.9Z"/><path d="M1481.34 132.88L1486.84 142.08H1475.84Z"/><path d="M1487.28 131.82L1492.78 141.02H1481.78Z"/><path d="M1493.21 130.82L1498.71 140.02H1487.71Z"/><path d="M1499.15 129.9L1504.65 139.1H1493.65Z"/><path d="M1505.09 129.07L1510.59 138.27H1499.59Z"/><path d="M1511.03 128.34L1516.53 137.54H1505.53Z"/><path d="M1516.96 127.7L1522.46 136.9H1511.46Z"/><path d="M1522.9 127.12L1528.4 136.32H1517.4Z"/><path d="M1528.84 126.58L1534.34 135.78H1523.34Z"/><path d="M1534.78 126.08L1540.28 135.28H1529.28Z"/><path d="M1540.71 125.61L1546.21 134.81H1535.21Z"/><path d="M1546.65 125.15L1552.15 134.35H1541.15Z"/><path d="M1552.59 124.7L1558.09 133.9H1547.09Z"/><path d="M1558.53 124.24L1564.03 133.44H1553.03Z"/><path d="M1564.46 123.8L1569.96 133H1558.96Z"/><path d="M1570.4 123.37L1575.9 132.57H1564.9Z"/><path d="M1576.34 122.95L1581.84 132.15H1570.84Z"/><path d="M1582.28 122.55L1587.78 131.75H1576.78Z"/><path d="M1588.22 122.15L1593.72 131.35H1582.72Z"/><path d="M1594.15 121.75L1599.65 130.95H1588.65Z"/><path d="M1600.09 121.35L1605.59 130.55H1594.59Z"/><path d="M1606.03 120.95L1611.53 130.15H1600.53Z"/><path d="M1611.97 120.55L1617.47 129.75H1606.47Z"/><path d="M1617.9 120.15L1623.4 129.35H1612.4Z"/><path d="M1623.84 119.75L1629.34 128.95H1618.34Z"/><path d="M1629.78 119.35L1635.28 128.55H1624.28Z"/></g>
<polyline fill="none" stroke="#1414e6" stroke-width="1" points="1036.02,364.06 1041.96,367.38 1047.9,369.6 1053.83,370.71 1059.77,374.03 1065.71,377.35 1071.65,382.89 1077.58,386.21 1083.52,390.65 1089.46,392.86 1095.4,390.65 1101.34,385.11 1107.27,381.78 1113.21,378.46 1119.15,375.14 1125.09,371.82 1131.02,368.49 1136.96,366.28 1142.9,362.95 1148.84,359.63 1154.77,357.42 1160.71,355.2 1166.65,352.98 1172.59,350.77 1178.52,348.55 1184.46,346.34 1190.4,344.12 1196.34,340.8 1202.27,338.58 1208.21,336.37 1214.15,335.26 1220.09,334.15 1226.02,328.62 1231.96,325.29 1237.9,321.97 1243.84,314.22 1249.77,309.79 1255.71,306.46 1261.65,304.25 1267.59,307.57 1273.52,298.71 1279.46,297.6 1285.4,284.31 1291.34,254.4 1297.27,267.69 1303.21,257.72 1309.15,248.86 1315.09,239.3 1321.02,219.91 1326.96,209.6 1332.9,204.65 1338.84,198.87 1344.78,189.39 1350.71,183.61 1356.65,178.66 1362.59,172.89 1368.53,169.17 1374.46,165.46 1380.4,162.48 1386.34,159.86 1392.28,157.62 1398.21,155.72 1404.15,154.04 1410.09,152.5 1416.03,151.03 1421.96,149.57 1427.9,148.16 1433.84,146.78 1439.78,145.45 1445.71,144.18 1451.65,142.96 1457.59,141.8 1463.53,140.71 1469.46,139.66 1475.4,138.63 1481.34,137.62 1487.28,136.67 1493.21,135.77 1499.15,134.96 1505.09,134.24 1511.03,133.63 1516.96,133.11 1522.9,132.64 1528.84,132.21 1534.78,131.82 1540.71,131.45 1546.65,131.09 1552.59,130.73 1558.53,130.35 1564.46,129.98 1570.4,129.61 1576.34,129.26 1582.28,128.91 1588.22,128.56 1594.15,128.2 1600.09,127.84 1606.03,127.46 1611.97,127.08 1617.9,126.68 1623.84,126.27 1629.78,125.86"/>
<g fill="#fff" stroke="#1414e6" stroke-width="1"><path d="M1036.02 370.16L1041.52 360.96H1030.52Z"/><path d="M1041.96 373.48L1047.46 364.28H1036.46Z"/><path d="M1047.9 375.7L1053.4 366.5H1042.4Z"/><path d="M1053.83 376.81L1059.33 367.61H1048.33Z"/><path d="M1059.77 380.13L1065.27 370.93H1054.27Z"/><path d="M1065.71 383.45L1071.21 374.25H1060.21Z"/><path d="M1071.65 388.99L1077.15 379.79H1066.15Z"/><path d="M1077.58 392.31L1083.08 383.11H1072.08Z"/><path d="M1083.52 396.75L1089.02 387.55H1078.02Z"/><path d="M1089.46 398.96L1094.96 389.76H1083.96Z"/><path d="M1095.4 396.75L1100.9 387.55H1089.9Z"/><path d="M1101.34 391.21L1106.84 382.01H1095.84Z"/><path d="M1107.27 387.88L1112.77 378.68H1101.77Z"/><path d="M1113.21 384.56L1118.71 375.36H1107.71Z"/><path d="M1119.15 381.24L1124.65 372.04H1113.65Z"/><path d="M1125.09 377.92L1130.59 368.72H1119.59Z"/><path d="M1131.02 374.59L1136.52 365.39H1125.52Z"/><path d="M1136.96 372.38L1142.46 363.18H1131.46Z"/><path d="M1142.9 369.05L1148.4 359.85H1137.4Z"/><path d="M1148.84 365.73L1154.34 356.53H1143.34Z"/><path d="M1154.77 363.52L1160.27 354.32H1149.27Z"/><path d="M1160.71 361.3L1166.21 352.1H1155.21Z"/><path d="M1166.65 359.08L1172.15 349.88H1161.15Z"/><path d="M1172.59 356.87L1178.09 347.67H1167.09Z"/><path d="M1178.52 354.65L1184.02 345.45H1173.02Z"/><path d="M1184.46 352.44L1189.96 343.24H1178.96Z"/><path d="M1190.4 350.22L1195.9 341.02H1184.9Z"/><path d="M1196.34 346.9L1201.84 337.7H1190.84Z"/><path d="M1202.27 344.68L1207.77 335.48H1196.77Z"/><path d="M1208.21 342.47L1213.71 333.27H1202.71Z"/><path d="M1214.15 341.36L1219.65 332.16H1208.65Z"/><path d="M1220.09 340.25L1225.59 331.05H1214.59Z"/><path d="M1226.02 334.72L1231.52 325.52H1220.52Z"/><path d="M1231.96 331.39L1237.46 322.19H1226.46Z"/><path d="M1237.9 328.07L1243.4 318.87H1232.4Z"/><path d="M1243.84 320.32L1249.34 311.12H1238.34Z"/><path d="M1249.77 315.89L1255.27 306.69H1244.27Z"/><path d="M1255.71 312.56L1261.21 303.36H1250.21Z"/><path d="M1261.65 310.35L1267.15 301.15H1256.15Z"/><path d="M1267.59 313.67L1273.09 304.47H1262.09Z"/><path d="M1273.52 304.81L1279.02 295.61H1268.02Z"/><path d="M1279.46 303.7L1284.96 294.5H1273.96Z"/><path d="M1285.4 290.41L1290.9 281.21H1279.9Z"/><path d="M1291.34 260.5L1296.84 251.3H1285.84Z"/><path d="M1297.27 273.79L1302.77 264.59H1291.77Z"/><path d="M1303.21 263.82L1308.71 254.62H1297.71Z"/><path d="M1309.15 254.96L1314.65 245.76H1303.65Z"/><path d="M1315.09 245.4L1320.59 236.2H1309.59Z"/><path d="M1321.02 226.01L1326.52 216.81H1315.52Z"/><path d="M1326.96 215.7L1332.46 206.5H1321.46Z"/><path d="M1332.9 210.75L1338.4 201.55H1327.4Z"/><path d="M1338.84 204.97L1344.34 195.77H1333.34Z"/><path d="M1344.78 195.49L1350.28 186.29H1339.28Z"/><path d="M1350.71 189.71L1356.21 180.51H1345.21Z"/><path d="M1356.65 184.76L1362.15 175.56H1351.15Z"/><path d="M1362.59 178.99L1368.09 169.79H1357.09Z"/><path d="M1368.53 175.27L1374.03 166.07H1363.03Z"/><path d="M1374.46 171.56L1379.96 162.36H1368.96Z"/><path d="M1380.4 168.58L1385.9 159.38H1374.9Z"/><path d="M1386.34 165.96L1391.84 156.76H1380.84Z"/><path d="M1392.28 163.72L1397.78 154.53H1386.78Z"/><path d="M1398.21 161.82L1403.71 152.62H1392.71Z"/><path d="M1404.15 160.14L1409.65 150.94H1398.65Z"/><path d="M1410.09 158.6L1415.59 149.4H1404.59Z"/><path d="M1416.03 157.12L1421.53 147.93H1410.53Z"/><path d="M1421.96 155.67L1427.46 146.47H1416.46Z"/><path d="M1427.9 154.26L1433.4 145.06H1422.4Z"/><path d="M1433.84 152.88L1439.34 143.68H1428.34Z"/><path d="M1439.78 151.55L1445.28 142.35H1434.28Z"/><path d="M1445.71 150.28L1451.21 141.08H1440.21Z"/><path d="M1451.65 149.06L1457.15 139.86H1446.15Z"/><path d="M1457.59 147.9L1463.09 138.7H1452.09Z"/><path d="M1463.53 146.81L1469.03 137.61H1458.03Z"/><path d="M1469.46 145.76L1474.96 136.56H1463.96Z"/><path d="M1475.4 144.73L1480.9 135.53H1469.9Z"/><path d="M1481.34 143.72L1486.84 134.52H1475.84Z"/><path d="M1487.28 142.77L1492.78 133.57H1481.78Z"/><path d="M1493.21 141.87L1498.71 132.67H1487.71Z"/><path d="M1499.15 141.06L1504.65 131.86H1493.65Z"/><path d="M1505.09 140.34L1510.59 131.14H1499.59Z"/><path d="M1511.03 139.73L1516.53 130.53H1505.53Z"/><path d="M1516.96 139.21L1522.46 130.01H1511.46Z"/><path d="M1522.9 138.74L1528.4 129.54H1517.4Z"/><path d="M1528.84 138.31L1534.34 129.11H1523.34Z"/><path d="M1534.78 137.92L1540.28 128.72H1529.28Z"/><path d="M1540.71 137.55L1546.21 128.35H1535.21Z"/><path d="M1546.65 137.19L1552.15 127.99H1541.15Z"/><path d="M1552.59 136.83L1558.09 127.63H1547.09Z"/><path d="M1558.53 136.45L1564.03 127.25H1553.03Z"/><path d="M1564.46 136.08L1569.96 126.88H1558.96Z"/><path d="M1570.4 135.71L1575.9 126.51H1564.9Z"/><path d="M1576.34 135.36L1581.84 126.16H1570.84Z"/><path d="M1582.28 135.01L1587.78 125.81H1576.78Z"/><path d="M1588.22 134.66L1593.72 125.46H1582.72Z"/><path d="M1594.15 134.3L1599.65 125.1H1588.65Z"/><path d="M1600.09 133.94L1605.59 124.74H1594.59Z"/><path d="M1606.03 133.56L1611.53 124.36H1600.53Z"/><path d="M1611.97 133.18L1617.47 123.98H1606.47Z"/><path d="M1617.9 132.78L1623.4 123.58H1612.4Z"/><path d="M1623.84 132.37L1629.34 123.17H1618.34Z"/><path d="M1629.78 131.96L1635.28 122.76H1624.28Z"/></g>
</g>
<text x="1018.4" y="51.3" text-anchor="end" font-size="37.3">10<tspan font-size="22.8" dx="-1.7" dy="-19.6">-2</tspan></text>
<text x="1018.4" y="133.8" text-anchor="end" font-size="37.3">10<tspan font-size="22.8" dx="-1.7" dy="-19.6">-4</tspan></text>
<text x="1018.4" y="216.3" text-anchor="end" font-size="37.3">10<tspan font-size="22.8" dx="-1.7" dy="-19.6">-6</tspan></text>
<text x="1018.4" y="298.8" text-anchor="end" font-size="37.3">10<tspan font-size="22.8" dx="-1.7" dy="-19.6">-8</tspan></text>
<text x="1018.4" y="381.3" text-anchor="end" font-size="37.3">10<tspan font-size="22.8" dx="-1.7" dy="-19.6">-10</tspan></text>
<text x="1018.4" y="463.8" text-anchor="end" font-size="37.3">10<tspan font-size="22.8" dx="-1.7" dy="-19.6">-12</tspan></text>
<text x="1018.4" y="546.3" text-anchor="end" font-size="37.3">10<tspan font-size="22.8" dx="-1.7" dy="-19.6">-14</tspan></text>
<text x="1036.02" y="571.5" text-anchor="middle" font-size="37.3">-40</text>
<text x="1110.24" y="571.5" text-anchor="middle" font-size="37.3">-30</text>
<text x="1184.46" y="571.5" text-anchor="middle" font-size="37.3">-20</text>
<text x="1258.68" y="571.5" text-anchor="middle" font-size="37.3">-10</text>
<text x="1332.9" y="571.5" text-anchor="middle" font-size="37.3">0</text>
<text x="1407.12" y="571.5" text-anchor="middle" font-size="37.3">10</text>
<text x="1481.34" y="571.5" text-anchor="middle" font-size="37.3">20</text>
<text x="1555.56" y="571.5" text-anchor="middle" font-size="37.3">30</text>
<text x="1629.78" y="571.5" text-anchor="middle" font-size="37.3">40</text>
<clipPath id="clipC"><rect x="179.5" y="753.4" width="605.2" height="493.3"/></clipPath>
<rect x="182.3" y="756.2" width="599.6" height="487.7" fill="none" stroke="#000" stroke-width="5.6" stroke-linejoin="round"/>
<path d="M182.3 1243.9h9.6M182.3 1231.67h5M182.3 1224.51h5M182.3 1219.43h5M182.3 1215.49h5M182.3 1212.27h5M182.3 1209.55h5M182.3 1207.2h5M182.3 1205.12h5M182.3 1203.26h9.6M182.3 1191.02h5M182.3 1183.87h5M182.3 1178.79h5M182.3 1174.85h5M182.3 1171.63h5M182.3 1168.91h5M182.3 1166.56h5M182.3 1164.48h5M182.3 1162.62h9.6M182.3 1150.38h5M182.3 1143.23h5M182.3 1138.15h5M182.3 1134.21h5M182.3 1130.99h5M182.3 1128.27h5M182.3 1125.91h5M182.3 1123.83h5M182.3 1121.98h9.6M182.3 1109.74h5M182.3 1102.58h5M182.3 1097.51h5M182.3 1093.57h5M182.3 1090.35h5M182.3 1087.63h5M182.3 1085.27h5M182.3 1083.19h5M182.3 1081.33h9.6M182.3 1069.1h5M182.3 1061.94h5M182.3 1056.86h5M182.3 1052.93h5M182.3 1049.71h5M182.3 1046.99h5M182.3 1044.63h5M182.3 1042.55h5M182.3 1040.69h9.6M182.3 1028.46h5M182.3 1021.3h5M182.3 1016.22h5M182.3 1012.28h5M182.3 1009.07h5M182.3 1006.35h5M182.3 1003.99h5M182.3 1001.91h5M182.3 1000.05h9.6M182.3 987.82h5M182.3 980.66h5M182.3 975.58h5M182.3 971.64h5M182.3 968.42h5M182.3 965.7h5M182.3 963.35h5M182.3 961.27h5M182.3 959.41h9.6M182.3 947.17h5M182.3 940.02h5M182.3 934.94h5M182.3 931h5M182.3 927.78h5M182.3 925.06h5M182.3 922.71h5M182.3 920.63h5M182.3 918.77h9.6M182.3 906.53h5M182.3 899.38h5M182.3 894.3h5M182.3 890.36h5M182.3 887.14h5M182.3 884.42h5M182.3 882.06h5M182.3 879.98h5M182.3 878.12h9.6M182.3 865.89h5M182.3 858.73h5M182.3 853.66h5M182.3 849.72h5M182.3 846.5h5M182.3 843.78h5M182.3 841.42h5M182.3 839.34h5M182.3 837.48h9.6M182.3 825.25h5M182.3 818.09h5M182.3 813.01h5M182.3 809.08h5M182.3 805.86h5M182.3 803.14h5M182.3 800.78h5M182.3 798.7h5M182.3 796.84h9.6M182.3 784.61h5M182.3 777.45h5M182.3 772.37h5M182.3 768.43h5M182.3 765.22h5M182.3 762.5h5M182.3 760.14h5M182.3 758.06h5M182.3 756.2h9.6M189.61 1243.9v-9.6M226.17 1243.9v-5M262.73 1243.9v-9.6M299.3 1243.9v-5M335.86 1243.9v-9.6M372.42 1243.9v-5M408.98 1243.9v-9.6M445.54 1243.9v-5M482.1 1243.9v-9.6M518.66 1243.9v-5M555.22 1243.9v-9.6M591.78 1243.9v-5M628.34 1243.9v-9.6M664.9 1243.9v-5M701.47 1243.9v-9.6M738.03 1243.9v-5M774.59 1243.9v-9.6" stroke="#000" stroke-width="4.6" stroke-linecap="round" fill="none"/>
<g clip-path="url(#clipC)">
<polyline fill="none" stroke="#000000" stroke-width="1" points="189.61,1162.53 195.46,1139.82 201.31,1139.82 207.16,1138.3 213.01,1138.3 218.86,1135.28 224.71,1135.28 230.56,1142.85 236.41,1148.9 242.26,1138.3 248.11,1135.28 253.96,1138.3 259.81,1133.76 265.66,1130.73 271.51,1142.85 277.36,1161.02 283.21,1182.22 289.06,1167.07 294.91,1236.73 300.76,1194.33 306.61,1141.33 312.46,1157.99 318.31,1179.19 324.16,1138.3 330.01,1174.65 335.86,1173.13 341.71,1148.9 347.56,1161.02 353.41,1162.53 359.26,1154.96 365.1,1165.56 370.95,1174.65 376.8,1164.05 382.65,1221.59 388.5,1230.67 394.35,1162.53 400.2,1164.05 406.05,1185.25 411.9,1185.25 417.75,1182.22 423.6,1192.82 429.45,1168.59 435.3,1241.27 441.15,1141.33 447,1161.02 452.85,1144.36 458.7,1157.99 464.55,1174.65 470.4,1180.7 476.25,1173.13 482.1,1157.99 487.95,1142.85 493.8,1049.23 499.65,1003.71 505.5,972.41 511.35,949.65 517.2,932.18 523.05,920.39 528.9,910.64 534.75,902.92 540.6,896.82 546.45,891.94 552.3,887.88 558.15,883.81 564,879.75 569.85,877.31 575.7,875.1 581.55,873.02 587.4,871.05 593.25,869.12 599.1,867.29 604.94,865.66 610.79,864.29 616.64,863.09 622.49,862.02 628.34,861.06 634.19,860.15 640.04,859.29 645.89,858.48 651.74,857.71 657.59,856.99 663.44,856.31 669.29,855.67 675.14,855.07 680.99,854.46 686.84,853.87 692.69,853.3 698.54,852.78 704.39,852.33 710.24,851.97 716.09,851.71 721.94,851.51 727.79,851.32 733.64,851.15 739.49,850.99 745.34,850.85 751.19,850.73 757.04,850.63 762.89,850.55 768.74,850.5 774.59,850.49"/>
<g fill="#fff" stroke="#000000" stroke-width="1"><rect x="185.41" y="1158.33" width="8.4" height="8.4"/><rect x="191.26" y="1135.62" width="8.4" height="8.4"/><rect x="197.11" y="1135.62" width="8.4" height="8.4"/><rect x="202.96" y="1134.1" width="8.4" height="8.4"/><rect x="208.81" y="1134.1" width="8.4" height="8.4"/><rect x="214.66" y="1131.08" width="8.4" height="8.4"/><rect x="220.51" y="1131.08" width="8.4" height="8.4"/><rect x="226.36" y="1138.65" width="8.4" height="8.4"/><rect x="232.21" y="1144.7" width="8.4" height="8.4"/><rect x="238.06" y="1134.1" width="8.4" height="8.4"/><rect x="243.91" y="1131.08" width="8.4" height="8.4"/><rect x="249.76" y="1134.1" width="8.4" height="8.4"/><rect x="255.61" y="1129.56" width="8.4" height="8.4"/><rect x="261.46" y="1126.53" width="8.4" height="8.4"/><rect x="267.31" y="1138.65" width="8.4" height="8.4"/><rect x="273.16" y="1156.82" width="8.4" height="8.4"/><rect x="279.01" y="1178.02" width="8.4" height="8.4"/><rect x="284.86" y="1162.87" width="8.4" height="8.4"/><rect x="290.71" y="1232.53" width="8.4" height="8.4"/><rect x="296.56" y="1190.13" width="8.4" height="8.4"/><rect x="302.41" y="1137.13" width="8.4" height="8.4"/><rect x="308.26" y="1153.79" width="8.4" height="8.4"/><rect x="314.11" y="1174.99" width="8.4" height="8.4"/><rect x="319.96" y="1134.1" width="8.4" height="8.4"/><rect x="325.81" y="1170.45" width="8.4" height="8.4"/><rect x="331.66" y="1168.93" width="8.4" height="8.4"/><rect x="337.51" y="1144.7" width="8.4" height="8.4"/><rect x="343.36" y="1156.82" width="8.4" height="8.4"/><rect x="349.21" y="1158.33" width="8.4" height="8.4"/><rect x="355.06" y="1150.76" width="8.4" height="8.4"/><rect x="360.9" y="1161.36" width="8.4" height="8.4"/><rect x="366.75" y="1170.45" width="8.4" height="8.4"/><rect x="372.6" y="1159.85" width="8.4" height="8.4"/><rect x="378.45" y="1217.39" width="8.4" height="8.4"/><rect x="384.3" y="1226.47" width="8.4" height="8.4"/><rect x="390.15" y="1158.33" width="8.4" height="8.4"/><rect x="396" y="1159.85" width="8.4" height="8.4"/><rect x="401.85" y="1181.05" width="8.4" height="8.4"/><rect x="407.7" y="1181.05" width="8.4" height="8.4"/><rect x="413.55" y="1178.02" width="8.4" height="8.4"/><rect x="419.4" y="1188.62" width="8.4" height="8.4"/><rect x="425.25" y="1164.39" width="8.4" height="8.4"/><rect x="431.1" y="1237.07" width="8.4" height="8.4"/><rect x="436.95" y="1137.13" width="8.4" height="8.4"/><rect x="442.8" y="1156.82" width="8.4" height="8.4"/><rect x="448.65" y="1140.16" width="8.4" height="8.4"/><rect x="454.5" y="1153.79" width="8.4" height="8.4"/><rect x="460.35" y="1170.45" width="8.4" height="8.4"/><rect x="466.2" y="1176.5" width="8.4" height="8.4"/><rect x="472.05" y="1168.93" width="8.4" height="8.4"/><rect x="477.9" y="1153.79" width="8.4" height="8.4"/><rect x="483.75" y="1138.65" width="8.4" height="8.4"/><rect x="489.6" y="1045.03" width="8.4" height="8.4"/><rect x="495.45" y="999.51" width="8.4" height="8.4"/><rect x="501.3" y="968.21" width="8.4" height="8.4"/><rect x="507.15" y="945.45" width="8.4" height="8.4"/><rect x="513" y="927.98" width="8.4" height="8.4"/><rect x="518.85" y="916.19" width="8.4" height="8.4"/><rect x="524.7" y="906.44" width="8.4" height="8.4"/><rect x="530.55" y="898.72" width="8.4" height="8.4"/><rect x="536.4" y="892.62" width="8.4" height="8.4"/><rect x="542.25" y="887.74" width="8.4" height="8.4"/><rect x="548.1" y="883.68" width="8.4" height="8.4"/><rect x="553.95" y="879.61" width="8.4" height="8.4"/><rect x="559.8" y="875.55" width="8.4" height="8.4"/><rect x="565.65" y="873.11" width="8.4" height="8.4"/><rect x="571.5" y="870.9" width="8.4" height="8.4"/><rect x="577.35" y="868.82" width="8.4" height="8.4"/><rect x="583.2" y="866.85" width="8.4" height="8.4"/><rect x="589.05" y="864.92" width="8.4" height="8.4"/><rect x="594.9" y="863.09" width="8.4" height="8.4"/><rect x="600.74" y="861.46" width="8.4" height="8.4"/><rect x="606.59" y="860.09" width="8.4" height="8.4"/><rect x="612.44" y="858.89" width="8.4" height="8.4"/><rect x="618.29" y="857.82" width="8.4" height="8.4"/><rect x="624.14" y="856.86" width="8.4" height="8.4"/><rect x="629.99" y="855.95" width="8.4" height="8.4"/><rect x="635.84" y="855.09" width="8.4" height="8.4"/><rect x="641.69" y="854.28" width="8.4" height="8.4"/><rect x="647.54" y="853.51" width="8.4" height="8.4"/><rect x="653.39" y="852.79" width="8.4" height="8.4"/><rect x="659.24" y="852.11" width="8.4" height="8.4"/><rect x="665.09" y="851.47" width="8.4" height="8.4"/><rect x="670.94" y="850.87" width="8.4" height="8.4"/><rect x="676.79" y="850.26" width="8.4" height="8.4"/><rect x="682.64" y="849.67" width="8.4" height="8.4"/><rect x="688.49" y="849.1" width="8.4" height="8.4"/><rect x="694.34" y="848.58" width="8.4" height="8.4"/><rect x="700.19" y="848.13" width="8.4" height="8.4"/><rect x="706.04" y="847.77" width="8.4" height="8.4"/><rect x="711.89" y="847.51" width="8.4" height="8.4"/><rect x="717.74" y="847.31" width="8.4" height="8.4"/><rect x="723.59" y="847.12" width="8.4" height="8.4"/><rect x="729.44" y="846.95" width="8.4" height="8.4"/><rect x="735.29" y="846.79" width="8.4" height="8.4"/><rect x="741.14" y="846.65" width="8.4" height="8.4"/><rect x="746.99" y="846.53" width="8.4" height="8.4"/><rect x="752.84" y="846.43" width="8.4" height="8.4"/><rect x="758.69" y="846.35" width="8.4" height="8.4"/><rect x="764.54" y="846.3" width="8.4" height="8.4"/><rect x="770.39" y="846.29" width="8.4" height="8.4"/></g>
<polyline fill="none" stroke="#ee2020" stroke-width="1" points="189.61,1111.05 195.46,1115.59 201.31,1120.13 207.16,1123.16 213.01,1127.7 218.86,1126.19 224.71,1129.22 230.56,1130.73 236.41,1138.3 242.26,1135.28 248.11,1138.3 253.96,1147.39 259.81,1138.3 265.66,1133.76 271.51,1142.85 277.36,1161.02 283.21,1142.85 289.06,1144.36 294.91,1222.19 300.76,1148.9 306.61,1141.33 312.46,1156.48 318.31,1168.59 324.16,1151.93 330.01,1165.56 335.86,1156.48 341.71,1157.99 347.56,1142.85 353.41,1162.53 359.26,1151.93 365.1,1153.45 370.95,1156.48 376.8,1161.02 382.65,1197.36 388.5,1148.9 394.35,1159.5 400.2,1156.48 406.05,1176.16 411.9,1179.19 417.75,1154.96 423.6,1192.82 429.45,1154.96 435.3,1189.79 441.15,1148.9 447,1206.44 452.85,1157.99 458.7,1103.69 464.55,1048.82 470.4,1004.93 476.25,973.23 482.1,950.06 487.95,932.58 493.8,919.99 499.65,911.04 505.5,902.92 511.35,897.23 517.2,891.94 523.05,887.88 528.9,883 534.75,879.75 540.6,876.5 546.45,874.14 552.3,872.13 558.15,870.37 564,868.78 569.85,867.33 575.7,866.02 581.55,864.85 587.4,863.79 593.25,862.78 599.1,861.84 604.94,860.94 610.79,860.09 616.64,859.29 622.49,858.53 628.34,857.8 634.19,857.11 640.04,856.46 645.89,855.83 651.74,855.23 657.59,854.66 663.44,854.11 669.29,853.59 675.14,853.08 680.99,852.59 686.84,852.09 692.69,851.61 698.54,851.13 704.39,850.67 710.24,850.21 716.09,849.76 721.94,849.32 727.79,848.9 733.64,848.49 739.49,848.09 745.34,847.7 751.19,847.33 757.04,846.98 762.89,846.64 768.74,846.32 774.59,846.02"/>
<g fill="#fff" stroke="#ee2020" stroke-width="1"><circle cx="189.61" cy="1111.05" r="4.6"/><circle cx="195.46" cy="1115.59" r="4.6"/><circle cx="201.31" cy="1120.13" r="4.6"/><circle cx="207.16" cy="1123.16" r="4.6"/><circle cx="213.01" cy="1127.7" r="4.6"/><circle cx="218.86" cy="1126.19" r="4.6"/><circle cx="224.71" cy="1129.22" r="4.6"/><circle cx="230.56" cy="1130.73" r="4.6"/><circle cx="236.41" cy="1138.3" r="4.6"/><circle cx="242.26" cy="1135.28" r="4.6"/><circle cx="248.11" cy="1138.3" r="4.6"/><circle cx="253.96" cy="1147.39" r="4.6"/><circle cx="259.81" cy="1138.3" r="4.6"/><circle cx="265.66" cy="1133.76" r="4.6"/><circle cx="271.51" cy="1142.85" r="4.6"/><circle cx="277.36" cy="1161.02" r="4.6"/><circle cx="283.21" cy="1142.85" r="4.6"/><circle cx="289.06" cy="1144.36" r="4.6"/><circle cx="294.91" cy="1222.19" r="4.6"/><circle cx="300.76" cy="1148.9" r="4.6"/><circle cx="306.61" cy="1141.33" r="4.6"/><circle cx="312.46" cy="1156.48" r="4.6"/><circle cx="318.31" cy="1168.59" r="4.6"/><circle cx="324.16" cy="1151.93" r="4.6"/><circle cx="330.01" cy="1165.56" r="4.6"/><circle cx="335.86" cy="1156.48" r="4.6"/><circle cx="341.71" cy="1157.99" r="4.6"/><circle cx="347.56" cy="1142.85" r="4.6"/><circle cx="353.41" cy="1162.53" r="4.6"/><circle cx="359.26" cy="1151.93" r="4.6"/><circle cx="365.1" cy="1153.45" r="4.6"/><circle cx="370.95" cy="1156.48" r="4.6"/><circle cx="376.8" cy="1161.02" r="4.6"/><circle cx="382.65" cy="1197.36" r="4.6"/><circle cx="388.5" cy="1148.9" r="4.6"/><circle cx="394.35" cy="1159.5" r="4.6"/><circle cx="400.2" cy="1156.48" r="4.6"/><circle cx="406.05" cy="1176.16" r="4.6"/><circle cx="411.9" cy="1179.19" r="4.6"/><circle cx="417.75" cy="1154.96" r="4.6"/><circle cx="423.6" cy="1192.82" r="4.6"/><circle cx="429.45" cy="1154.96" r="4.6"/><circle cx="435.3" cy="1189.79" r="4.6"/><circle cx="441.15" cy="1148.9" r="4.6"/><circle cx="447" cy="1206.44" r="4.6"/><circle cx="452.85" cy="1157.99" r="4.6"/><circle cx="458.7" cy="1103.69" r="4.6"/><circle cx="464.55" cy="1048.82" r="4.6"/><circle cx="470.4" cy="1004.93" r="4.6"/><circle cx="476.25" cy="973.23" r="4.6"/><circle cx="482.1" cy="950.06" r="4.6"/><circle cx="487.95" cy="932.58" r="4.6"/><circle cx="493.8" cy="919.99" r="4.6"/><circle cx="499.65" cy="911.04" r="4.6"/><circle cx="505.5" cy="902.92" r="4.6"/><circle cx="511.35" cy="897.23" r="4.6"/><circle cx="517.2" cy="891.94" r="4.6"/><circle cx="523.05" cy="887.88" r="4.6"/><circle cx="528.9" cy="883" r="4.6"/><circle cx="534.75" cy="879.75" r="4.6"/><circle cx="540.6" cy="876.5" r="4.6"/><circle cx="546.45" cy="874.14" r="4.6"/><circle cx="552.3" cy="872.13" r="4.6"/><circle cx="558.15" cy="870.37" r="4.6"/><circle cx="564" cy="868.78" r="4.6"/><circle cx="569.85" cy="867.33" r="4.6"/><circle cx="575.7" cy="866.02" r="4.6"/><circle cx="581.55" cy="864.85" r="4.6"/><circle cx="587.4" cy="863.79" r="4.6"/><circle cx="593.25" cy="862.78" r="4.6"/><circle cx="599.1" cy="861.84" r="4.6"/><circle cx="604.94" cy="860.94" r="4.6"/><circle cx="610.79" cy="860.09" r="4.6"/><circle cx="616.64" cy="859.29" r="4.6"/><circle cx="622.49" cy="858.53" r="4.6"/><circle cx="628.34" cy="857.8" r="4.6"/><circle cx="634.19" cy="857.11" r="4.6"/><circle cx="640.04" cy="856.46" r="4.6"/><circle cx="645.89" cy="855.83" r="4.6"/><circle cx="651.74" cy="855.23" r="4.6"/><circle cx="657.59" cy="854.66" r="4.6"/><circle cx="663.44" cy="854.11" r="4.6"/><circle cx="669.29" cy="853.59" r="4.6"/><circle cx="675.14" cy="853.08" r="4.6"/><circle cx="680.99" cy="852.59" r="4.6"/><circle cx="686.84" cy="852.09" r="4.6"/><circle cx="692.69" cy="851.61" r="4.6"/><circle cx="698.54" cy="851.13" r="4.6"/><circle cx="704.39" cy="850.67" r="4.6"/><circle cx="710.24" cy="850.21" r="4.6"/><circle cx="716.09" cy="849.76" r="4.6"/><circle cx="721.94" cy="849.32" r="4.6"/><circle cx="727.79" cy="848.9" r="4.6"/><circle cx="733.64" cy="848.49" r="4.6"/><circle cx="739.49" cy="848.09" r="4.6"/><circle cx="745.34" cy="847.7" r="4.6"/><circle cx="751.19" cy="847.33" r="4.6"/><circle cx="757.04" cy="846.98" r="4.6"/><circle cx="762.89" cy="846.64" r="4.6"/><circle cx="768.74" cy="846.32" r="4.6"/><circle cx="774.59" cy="846.02" r="4.6"/></g>
<polyline fill="none" stroke="#108a10" stroke-width="1" points="189.61,1104.99 195.46,1111.04 201.31,1112.55 207.16,1115.59 213.01,1118.6 218.86,1120.15 224.71,1120.15 230.56,1121.65 236.41,1124.66 242.26,1123.15 248.11,1126.2 253.96,1127.71 259.81,1126.2 265.66,1123.15 271.51,1127.71 277.36,1132.26 283.21,1129.21 289.06,1126.2 294.91,1129.21 300.76,1127.71 306.61,1127.71 312.46,1132.26 318.31,1136.81 324.16,1130.75 330.01,1132.26 335.86,1136.81 341.71,1132.26 347.56,1126.2 353.41,1135.26 359.26,1147.38 365.1,1135.26 370.95,1136.81 376.8,1148.92 382.65,1141.32 388.5,1133.76 394.35,1138.31 400.2,1141.32 406.05,1123.19 411.9,1114.25 417.75,1106.53 423.6,1094.75 429.45,1076.05 435.3,1057.35 441.15,1029.31 447,1004.93 452.85,985.42 458.7,964.29 464.55,950.47 470.4,936.24 476.25,925.27 482.1,915.11 487.95,906.17 493.8,900.88 499.65,893.98 505.5,888.69 511.35,883.81 517.2,880.97 523.05,877.72 528.9,875.09 534.75,872.77 540.6,870.81 546.45,869.16 552.3,867.71 558.15,866.39 564,865.12 569.85,863.86 575.7,862.65 581.55,861.55 587.4,860.59 593.25,859.73 599.1,858.92 604.94,858.17 610.79,857.45 616.64,856.75 622.49,856.06 628.34,855.37 634.19,854.67 640.04,853.99 645.89,853.33 651.74,852.67 657.59,852.03 663.44,851.41 669.29,850.79 675.14,850.19 680.99,849.59 686.84,849 692.69,848.42 698.54,847.84 704.39,847.29 710.24,846.75 716.09,846.23 721.94,845.73 727.79,845.26 733.64,844.79 739.49,844.34 745.34,843.91 751.19,843.48 757.04,843.08 762.89,842.69 768.74,842.31 774.59,841.95"/>
<g fill="#fff" stroke="#108a10" stroke-width="1"><path d="M189.61 1098.89L195.11 1108.09H184.11Z"/><path d="M195.46 1104.94L200.96 1114.14H189.96Z"/><path d="M201.31 1106.45L206.81 1115.65H195.81Z"/><path d="M207.16 1109.49L212.66 1118.69H201.66Z"/><path d="M213.01 1112.5L218.51 1121.7H207.51Z"/><path d="M218.86 1114.05L224.36 1123.25H213.36Z"/><path d="M224.71 1114.05L230.21 1123.25H219.21Z"/><path d="M230.56 1115.55L236.06 1124.75H225.06Z"/><path d="M236.41 1118.56L241.91 1127.76H230.91Z"/><path d="M242.26 1117.05L247.76 1126.25H236.76Z"/><path d="M248.11 1120.1L253.61 1129.3H242.61Z"/><path d="M253.96 1121.61L259.46 1130.81H248.46Z"/><path d="M259.81 1120.1L265.31 1129.3H254.31Z"/><path d="M265.66 1117.05L271.16 1126.25H260.16Z"/><path d="M271.51 1121.61L277.01 1130.81H266.01Z"/><path d="M277.36 1126.16L282.86 1135.36H271.86Z"/><path d="M283.21 1123.11L288.71 1132.31H277.71Z"/><path d="M289.06 1120.1L294.56 1129.3H283.56Z"/><path d="M294.91 1123.11L300.41 1132.31H289.41Z"/><path d="M300.76 1121.61L306.26 1130.81H295.26Z"/><path d="M306.61 1121.61L312.11 1130.81H301.11Z"/><path d="M312.46 1126.16L317.96 1135.36H306.96Z"/><path d="M318.31 1130.71L323.81 1139.91H312.81Z"/><path d="M324.16 1124.65L329.66 1133.85H318.66Z"/><path d="M330.01 1126.16L335.51 1135.36H324.51Z"/><path d="M335.86 1130.71L341.36 1139.91H330.36Z"/><path d="M341.71 1126.16L347.21 1135.36H336.21Z"/><path d="M347.56 1120.1L353.06 1129.3H342.06Z"/><path d="M353.41 1129.16L358.91 1138.36H347.91Z"/><path d="M359.26 1141.28L364.76 1150.48H353.76Z"/><path d="M365.1 1129.16L370.6 1138.36H359.6Z"/><path d="M370.95 1130.71L376.45 1139.91H365.45Z"/><path d="M376.8 1142.82L382.3 1152.02H371.3Z"/><path d="M382.65 1135.22L388.15 1144.42H377.15Z"/><path d="M388.5 1127.66L394 1136.86H383Z"/><path d="M394.35 1132.21L399.85 1141.41H388.85Z"/><path d="M400.2 1135.22L405.7 1144.42H394.7Z"/><path d="M406.05 1117.09L411.55 1126.29H400.55Z"/><path d="M411.9 1108.15L417.4 1117.35H406.4Z"/><path d="M417.75 1100.43L423.25 1109.63H412.25Z"/><path d="M423.6 1088.65L429.1 1097.85H418.1Z"/><path d="M429.45 1069.95L434.95 1079.15H423.95Z"/><path d="M435.3 1051.25L440.8 1060.45H429.8Z"/><path d="M441.15 1023.21L446.65 1032.41H435.65Z"/><path d="M447 998.83L452.5 1008.03H441.5Z"/><path d="M452.85 979.32L458.35 988.52H447.35Z"/><path d="M458.7 958.19L464.2 967.39H453.2Z"/><path d="M464.55 944.37L470.05 953.57H459.05Z"/><path d="M470.4 930.14L475.9 939.34H464.9Z"/><path d="M476.25 919.17L481.75 928.37H470.75Z"/><path d="M482.1 909.01L487.6 918.21H476.6Z"/><path d="M487.95 900.07L493.45 909.27H482.45Z"/><path d="M493.8 894.78L499.3 903.98H488.3Z"/><path d="M499.65 887.88L505.15 897.08H494.15Z"/><path d="M505.5 882.59L511 891.79H500Z"/><path d="M511.35 877.71L516.85 886.91H505.85Z"/><path d="M517.2 874.87L522.7 884.07H511.7Z"/><path d="M523.05 871.62L528.55 880.82H517.55Z"/><path d="M528.9 868.99L534.4 878.19H523.4Z"/><path d="M534.75 866.67L540.25 875.87H529.25Z"/><path d="M540.6 864.71L546.1 873.91H535.1Z"/><path d="M546.45 863.06L551.95 872.26H540.95Z"/><path d="M552.3 861.61L557.8 870.81H546.8Z"/><path d="M558.15 860.29L563.65 869.49H552.65Z"/><path d="M564 859.02L569.5 868.22H558.5Z"/><path d="M569.85 857.76L575.35 866.96H564.35Z"/><path d="M575.7 856.55L581.2 865.75H570.2Z"/><path d="M581.55 855.45L587.05 864.65H576.05Z"/><path d="M587.4 854.49L592.9 863.69H581.9Z"/><path d="M593.25 853.63L598.75 862.83H587.75Z"/><path d="M599.1 852.82L604.6 862.02H593.6Z"/><path d="M604.94 852.07L610.44 861.27H599.44Z"/><path d="M610.79 851.35L616.29 860.55H605.29Z"/><path d="M616.64 850.65L622.14 859.85H611.14Z"/><path d="M622.49 849.96L627.99 859.16H616.99Z"/><path d="M628.34 849.27L633.84 858.47H622.84Z"/><path d="M634.19 848.57L639.69 857.77H628.69Z"/><path d="M640.04 847.89L645.54 857.09H634.54Z"/><path d="M645.89 847.23L651.39 856.43H640.39Z"/><path d="M651.74 846.57L657.24 855.77H646.24Z"/><path d="M657.59 845.93L663.09 855.13H652.09Z"/><path d="M663.44 845.31L668.94 854.51H657.94Z"/><path d="M669.29 844.69L674.79 853.89H663.79Z"/><path d="M675.14 844.09L680.64 853.29H669.64Z"/><path d="M680.99 843.49L686.49 852.69H675.49Z"/><path d="M686.84 842.9L692.34 852.1H681.34Z"/><path d="M692.69 842.32L698.19 851.52H687.19Z"/><path d="M698.54 841.74L704.04 850.94H693.04Z"/><path d="M704.39 841.19L709.89 850.39H698.89Z"/><path d="M710.24 840.65L715.74 849.85H704.74Z"/><path d="M716.09 840.13L721.59 849.33H710.59Z"/><path d="M721.94 839.63L727.44 848.83H716.44Z"/><path d="M727.79 839.16L733.29 848.36H722.29Z"/><path d="M733.64 838.69L739.14 847.89H728.14Z"/><path d="M739.49 838.24L744.99 847.44H733.99Z"/><path d="M745.34 837.81L750.84 847.01H739.84Z"/><path d="M751.19 837.38L756.69 846.58H745.69Z"/><path d="M757.04 836.98L762.54 846.18H751.54Z"/><path d="M762.89 836.59L768.39 845.79H757.39Z"/><path d="M768.74 836.21L774.24 845.41H763.24Z"/><path d="M774.59 835.85L780.09 845.05H769.09Z"/></g>
<polyline fill="none" stroke="#1414e6" stroke-width="1" points="189.61,1076.05 195.46,1064.26 201.31,1054.92 207.16,1048.82 213.01,1044.76 218.86,1039.88 224.71,1026.47 230.56,1023.22 236.41,1020.37 242.26,1017.79 248.11,1015.49 253.96,1013.51 259.81,1011.77 265.66,1010.4 271.51,1009.36 277.36,1008.18 283.21,1006.44 289.06,1004.35 294.91,1002.36 300.76,1000.05 306.61,994.36 312.46,985.42 318.31,979.73 324.16,970.38 330.01,967.54 335.86,964.29 341.71,962.02 347.56,959.81 353.41,956.77 359.26,953.72 365.1,951.37 370.95,949.25 376.8,947.22 382.65,937.06 388.5,929.33 394.35,921.61 400.2,920.8 406.05,922.83 411.9,918.77 417.75,914.3 423.6,908.2 429.45,897.63 435.3,893.16 441.15,889.5 447,886.25 452.85,884.22 458.7,882.09 464.55,879.81 470.4,877.37 476.25,874.71 482.1,871.85 487.95,869.47 493.8,867.39 499.65,865.56 505.5,863.86 511.35,862.31 517.2,860.88 523.05,859.56 528.9,858.34 534.75,857.22 540.6,856.22 546.45,855.34 552.3,854.52 558.15,853.73 564,852.93 569.85,852.1 575.7,851.27 581.55,850.45 587.4,849.66 593.25,848.92 599.1,848.24 604.94,847.64 610.79,847.12 616.64,846.65 622.49,846.21 628.34,845.8 634.19,845.41 640.04,845.02 645.89,844.64 651.74,844.24 657.59,843.83 663.44,843.4 669.29,842.98 675.14,842.58 680.99,842.21 686.84,841.88 692.69,841.61 698.54,841.39 704.39,841.19 710.24,841.02 716.09,840.86 721.94,840.71 727.79,840.57 733.64,840.43 739.49,840.29 745.34,840.15 751.19,840.02 757.04,839.88 762.89,839.76 768.74,839.63 774.59,839.52"/>
<g fill="#fff" stroke="#1414e6" stroke-width="1"><path d="M189.61 1082.15L195.11 1072.95H184.11Z"/><path d="M195.46 1070.36L200.96 1061.16H189.96Z"/><path d="M201.31 1061.02L206.81 1051.82H195.81Z"/><path d="M207.16 1054.92L212.66 1045.72H201.66Z"/><path d="M213.01 1050.86L218.51 1041.66H207.51Z"/><path d="M218.86 1045.98L224.36 1036.78H213.36Z"/><path d="M224.71 1032.57L230.21 1023.37H219.21Z"/><path d="M230.56 1029.32L236.06 1020.12H225.06Z"/><path d="M236.41 1026.47L241.91 1017.27H230.91Z"/><path d="M242.26 1023.89L247.76 1014.69H236.76Z"/><path d="M248.11 1021.59L253.61 1012.39H242.61Z"/><path d="M253.96 1019.61L259.46 1010.41H248.46Z"/><path d="M259.81 1017.87L265.31 1008.67H254.31Z"/><path d="M265.66 1016.5L271.16 1007.3H260.16Z"/><path d="M271.51 1015.46L277.01 1006.26H266.01Z"/><path d="M277.36 1014.28L282.86 1005.08H271.86Z"/><path d="M283.21 1012.54L288.71 1003.34H277.71Z"/><path d="M289.06 1010.45L294.56 1001.25H283.56Z"/><path d="M294.91 1008.46L300.41 999.26H289.41Z"/><path d="M300.76 1006.15L306.26 996.95H295.26Z"/><path d="M306.61 1000.46L312.11 991.26H301.11Z"/><path d="M312.46 991.52L317.96 982.32H306.96Z"/><path d="M318.31 985.83L323.81 976.63H312.81Z"/><path d="M324.16 976.48L329.66 967.28H318.66Z"/><path d="M330.01 973.64L335.51 964.44H324.51Z"/><path d="M335.86 970.39L341.36 961.19H330.36Z"/><path d="M341.71 968.12L347.21 958.92H336.21Z"/><path d="M347.56 965.91L353.06 956.71H342.06Z"/><path d="M353.41 962.87L358.91 953.67H347.91Z"/><path d="M359.26 959.82L364.76 950.62H353.76Z"/><path d="M365.1 957.47L370.6 948.27H359.6Z"/><path d="M370.95 955.35L376.45 946.15H365.45Z"/><path d="M376.8 953.32L382.3 944.12H371.3Z"/><path d="M382.65 943.16L388.15 933.96H377.15Z"/><path d="M388.5 935.43L394 926.23H383Z"/><path d="M394.35 927.71L399.85 918.51H388.85Z"/><path d="M400.2 926.9L405.7 917.7H394.7Z"/><path d="M406.05 928.93L411.55 919.73H400.55Z"/><path d="M411.9 924.87L417.4 915.67H406.4Z"/><path d="M417.75 920.4L423.25 911.2H412.25Z"/><path d="M423.6 914.3L429.1 905.1H418.1Z"/><path d="M429.45 903.73L434.95 894.53H423.95Z"/><path d="M435.3 899.26L440.8 890.06H429.8Z"/><path d="M441.15 895.6L446.65 886.4H435.65Z"/><path d="M447 892.35L452.5 883.15H441.5Z"/><path d="M452.85 890.32L458.35 881.12H447.35Z"/><path d="M458.7 888.19L464.2 878.99H453.2Z"/><path d="M464.55 885.91L470.05 876.71H459.05Z"/><path d="M470.4 883.47L475.9 874.27H464.9Z"/><path d="M476.25 880.81L481.75 871.61H470.75Z"/><path d="M482.1 877.95L487.6 868.75H476.6Z"/><path d="M487.95 875.57L493.45 866.37H482.45Z"/><path d="M493.8 873.49L499.3 864.29H488.3Z"/><path d="M499.65 871.66L505.15 862.46H494.15Z"/><path d="M505.5 869.96L511 860.76H500Z"/><path d="M511.35 868.41L516.85 859.21H505.85Z"/><path d="M517.2 866.98L522.7 857.78H511.7Z"/><path d="M523.05 865.66L528.55 856.46H517.55Z"/><path d="M528.9 864.44L534.4 855.24H523.4Z"/><path d="M534.75 863.32L540.25 854.12H529.25Z"/><path d="M540.6 862.32L546.1 853.12H535.1Z"/><path d="M546.45 861.44L551.95 852.24H540.95Z"/><path d="M552.3 860.62L557.8 851.42H546.8Z"/><path d="M558.15 859.83L563.65 850.63H552.65Z"/><path d="M564 859.03L569.5 849.83H558.5Z"/><path d="M569.85 858.2L575.35 849H564.35Z"/><path d="M575.7 857.37L581.2 848.17H570.2Z"/><path d="M581.55 856.55L587.05 847.35H576.05Z"/><path d="M587.4 855.76L592.9 846.56H581.9Z"/><path d="M593.25 855.02L598.75 845.82H587.75Z"/><path d="M599.1 854.34L604.6 845.14H593.6Z"/><path d="M604.94 853.74L610.44 844.54H599.44Z"/><path d="M610.79 853.22L616.29 844.02H605.29Z"/><path d="M616.64 852.75L622.14 843.55H611.14Z"/><path d="M622.49 852.31L627.99 843.11H616.99Z"/><path d="M628.34 851.9L633.84 842.7H622.84Z"/><path d="M634.19 851.51L639.69 842.31H628.69Z"/><path d="M640.04 851.12L645.54 841.92H634.54Z"/><path d="M645.89 850.74L651.39 841.54H640.39Z"/><path d="M651.74 850.34L657.24 841.14H646.24Z"/><path d="M657.59 849.93L663.09 840.73H652.09Z"/><path d="M663.44 849.5L668.94 840.3H657.94Z"/><path d="M669.29 849.08L674.79 839.88H663.79Z"/><path d="M675.14 848.68L680.64 839.48H669.64Z"/><path d="M680.99 848.31L686.49 839.11H675.49Z"/><path d="M686.84 847.98L692.34 838.78H681.34Z"/><path d="M692.69 847.71L698.19 838.51H687.19Z"/><path d="M698.54 847.49L704.04 838.29H693.04Z"/><path d="M704.39 847.29L709.89 838.09H698.89Z"/><path d="M710.24 847.12L715.74 837.92H704.74Z"/><path d="M716.09 846.96L721.59 837.76H710.59Z"/><path d="M721.94 846.81L727.44 837.61H716.44Z"/><path d="M727.79 846.67L733.29 837.47H722.29Z"/><path d="M733.64 846.53L739.14 837.33H728.14Z"/><path d="M739.49 846.39L744.99 837.19H733.99Z"/><path d="M745.34 846.25L750.84 837.05H739.84Z"/><path d="M751.19 846.12L756.69 836.92H745.69Z"/><path d="M757.04 845.98L762.54 836.78H751.54Z"/><path d="M762.89 845.86L768.39 836.66H757.39Z"/><path d="M768.74 845.73L774.24 836.53H763.24Z"/><path d="M774.59 845.62L780.09 836.42H769.09Z"/></g>
</g>
<text x="172.25" y="769.3" text-anchor="end" font-size="36.74">10<tspan font-size="22.46" dx="-1.7" dy="-19.31">-2</tspan></text>
<text x="172.25" y="850.58" text-anchor="end" font-size="36.74">10<tspan font-size="22.46" dx="-1.7" dy="-19.31">-4</tspan></text>
<text x="172.25" y="931.87" text-anchor="end" font-size="36.74">10<tspan font-size="22.46" dx="-1.7" dy="-19.31">-6</tspan></text>
<text x="172.25" y="1013.15" text-anchor="end" font-size="36.74">10<tspan font-size="22.46" dx="-1.7" dy="-19.31">-8</tspan></text>
<text x="172.25" y="1094.43" text-anchor="end" font-size="36.74">10<tspan font-size="22.46" dx="-1.7" dy="-19.31">-10</tspan></text>
<text x="172.25" y="1175.72" text-anchor="end" font-size="36.74">10<tspan font-size="22.46" dx="-1.7" dy="-19.31">-12</tspan></text>
<text x="172.25" y="1257" text-anchor="end" font-size="36.74">10<tspan font-size="22.46" dx="-1.7" dy="-19.31">-14</tspan></text>
<text x="189.61" y="1281.82" text-anchor="middle" font-size="36.74">-40</text>
<text x="262.73" y="1281.82" text-anchor="middle" font-size="36.74">-30</text>
<text x="335.86" y="1281.82" text-anchor="middle" font-size="36.74">-20</text>
<text x="408.98" y="1281.82" text-anchor="middle" font-size="36.74">-10</text>
<text x="482.1" y="1281.82" text-anchor="middle" font-size="36.74">0</text>
<text x="555.22" y="1281.82" text-anchor="middle" font-size="36.74">10</text>
<text x="628.34" y="1281.82" text-anchor="middle" font-size="36.74">20</text>
<text x="701.47" y="1281.82" text-anchor="middle" font-size="36.74">30</text>
<text x="774.59" y="1281.82" text-anchor="middle" font-size="36.74">40</text>
<clipPath id="clipD"><rect x="1040.4" y="757.2" width="596.4" height="486.1"/></clipPath>
<rect x="1043.2" y="760" width="590.8" height="480.5" fill="none" stroke="#000" stroke-width="5.6" stroke-linejoin="round"/>
<path d="M1043.2 1240.5h9.6M1043.2 1228.45h5M1043.2 1221.4h5M1043.2 1216.39h5M1043.2 1212.51h5M1043.2 1209.34h5M1043.2 1206.66h5M1043.2 1204.34h5M1043.2 1202.29h5M1043.2 1200.46h9.6M1043.2 1188.4h5M1043.2 1181.35h5M1043.2 1176.35h5M1043.2 1172.47h5M1043.2 1169.3h5M1043.2 1166.62h5M1043.2 1164.3h5M1043.2 1162.25h5M1043.2 1160.42h9.6M1043.2 1148.36h5M1043.2 1141.31h5M1043.2 1136.31h5M1043.2 1132.43h5M1043.2 1129.26h5M1043.2 1126.58h5M1043.2 1124.26h5M1043.2 1122.21h5M1043.2 1120.38h9.6M1043.2 1108.32h5M1043.2 1101.27h5M1043.2 1096.27h5M1043.2 1092.39h5M1043.2 1089.22h5M1043.2 1086.54h5M1043.2 1084.21h5M1043.2 1082.17h5M1043.2 1080.33h9.6M1043.2 1068.28h5M1043.2 1061.23h5M1043.2 1056.23h5M1043.2 1052.35h5M1043.2 1049.17h5M1043.2 1046.49h5M1043.2 1044.17h5M1043.2 1042.12h5M1043.2 1040.29h9.6M1043.2 1028.24h5M1043.2 1021.19h5M1043.2 1016.18h5M1043.2 1012.3h5M1043.2 1009.13h5M1043.2 1006.45h5M1043.2 1004.13h5M1043.2 1002.08h5M1043.2 1000.25h9.6M1043.2 988.2h5M1043.2 981.15h5M1043.2 976.14h5M1043.2 972.26h5M1043.2 969.09h5M1043.2 966.41h5M1043.2 964.09h5M1043.2 962.04h5M1043.2 960.21h9.6M1043.2 948.15h5M1043.2 941.1h5M1043.2 936.1h5M1043.2 932.22h5M1043.2 929.05h5M1043.2 926.37h5M1043.2 924.05h5M1043.2 922h5M1043.2 920.17h9.6M1043.2 908.11h5M1043.2 901.06h5M1043.2 896.06h5M1043.2 892.18h5M1043.2 889.01h5M1043.2 886.33h5M1043.2 884.01h5M1043.2 881.96h5M1043.2 880.12h9.6M1043.2 868.07h5M1043.2 861.02h5M1043.2 856.02h5M1043.2 852.14h5M1043.2 848.97h5M1043.2 846.29h5M1043.2 843.96h5M1043.2 841.92h5M1043.2 840.08h9.6M1043.2 828.03h5M1043.2 820.98h5M1043.2 815.98h5M1043.2 812.1h5M1043.2 808.92h5M1043.2 806.24h5M1043.2 803.92h5M1043.2 801.87h5M1043.2 800.04h9.6M1043.2 787.99h5M1043.2 780.94h5M1043.2 775.93h5M1043.2 772.05h5M1043.2 768.88h5M1043.2 766.2h5M1043.2 763.88h5M1043.2 761.83h5M1043.2 760h9.6M1050.4 1240.5v-9.6M1086.43 1240.5v-5M1122.45 1240.5v-9.6M1158.48 1240.5v-5M1194.5 1240.5v-9.6M1230.53 1240.5v-5M1266.55 1240.5v-9.6M1302.58 1240.5v-5M1338.6 1240.5v-9.6M1374.62 1240.5v-5M1410.65 1240.5v-9.6M1446.67 1240.5v-5M1482.7 1240.5v-9.6M1518.72 1240.5v-5M1554.75 1240.5v-9.6M1590.77 1240.5v-5M1626.8 1240.5v-9.6" stroke="#000" stroke-width="4.6" stroke-linecap="round" fill="none"/>
<g clip-path="url(#clipD)">
<polyline fill="none" stroke="#000000" stroke-width="1" points="1050.4,1123.98 1056.17,1132.39 1061.93,1135.59 1067.7,1138.39 1073.46,1140.4 1079.22,1143.2 1084.99,1145.2 1090.75,1148 1096.52,1152.41 1102.28,1160.42 1108.04,1177.63 1113.81,1162.42 1119.57,1151.61 1125.34,1151.61 1131.1,1153.21 1136.86,1162.82 1142.63,1169.63 1148.39,1176.43 1154.16,1190.05 1159.92,1199.26 1165.68,1186.04 1171.45,1175.23 1177.21,1177.23 1182.97,1172.43 1188.74,1174.43 1194.5,1176.43 1200.27,1178.44 1206.03,1180.44 1211.79,1177.23 1217.56,1182.44 1223.32,1180.44 1229.09,1183.64 1234.85,1180.44 1240.61,1184.44 1246.38,1180.44 1252.14,1187.24 1257.91,1178.44 1263.67,1183.64 1269.43,1192.45 1275.2,1129.18 1280.96,1099.55 1286.72,1071.92 1292.49,1041.89 1298.25,1017.07 1304.02,991.44 1309.78,971.02 1315.54,955.4 1321.31,943.39 1327.07,933.38 1332.84,924.97 1338.6,917.76 1344.36,911.36 1350.13,906.55 1355.89,901.35 1361.66,896.94 1367.42,892.54 1373.18,888.13 1378.95,884.93 1384.71,880.93 1390.48,878.2 1396.24,875.97 1402,873.87 1407.77,871.62 1413.53,869.35 1419.29,867.21 1425.06,865.31 1430.82,863.62 1436.59,862.02 1442.35,860.51 1448.11,859.09 1453.88,857.77 1459.64,856.55 1465.41,855.43 1471.17,854.41 1476.93,853.48 1482.7,852.62 1488.46,851.81 1494.23,851.03 1499.99,850.26 1505.75,849.49 1511.52,848.7 1517.28,847.91 1523.04,847.13 1528.81,846.36 1534.57,845.62 1540.34,844.92 1546.1,844.25 1551.86,843.62 1557.63,843.03 1563.39,842.46 1569.16,841.91 1574.92,841.38 1580.68,840.86 1586.45,840.34 1592.21,839.82 1597.98,839.31 1603.74,838.81 1609.5,838.31 1615.27,837.83 1621.03,837.35 1626.8,836.88"/>
<g fill="#fff" stroke="#000000" stroke-width="1"><rect x="1046.2" y="1119.78" width="8.4" height="8.4"/><rect x="1051.97" y="1128.19" width="8.4" height="8.4"/><rect x="1057.73" y="1131.39" width="8.4" height="8.4"/><rect x="1063.5" y="1134.19" width="8.4" height="8.4"/><rect x="1069.26" y="1136.2" width="8.4" height="8.4"/><rect x="1075.02" y="1139" width="8.4" height="8.4"/><rect x="1080.79" y="1141" width="8.4" height="8.4"/><rect x="1086.55" y="1143.8" width="8.4" height="8.4"/><rect x="1092.32" y="1148.21" width="8.4" height="8.4"/><rect x="1098.08" y="1156.22" width="8.4" height="8.4"/><rect x="1103.84" y="1173.43" width="8.4" height="8.4"/><rect x="1109.61" y="1158.22" width="8.4" height="8.4"/><rect x="1115.37" y="1147.41" width="8.4" height="8.4"/><rect x="1121.14" y="1147.41" width="8.4" height="8.4"/><rect x="1126.9" y="1149.01" width="8.4" height="8.4"/><rect x="1132.66" y="1158.62" width="8.4" height="8.4"/><rect x="1138.43" y="1165.43" width="8.4" height="8.4"/><rect x="1144.19" y="1172.23" width="8.4" height="8.4"/><rect x="1149.96" y="1185.85" width="8.4" height="8.4"/><rect x="1155.72" y="1195.06" width="8.4" height="8.4"/><rect x="1161.48" y="1181.84" width="8.4" height="8.4"/><rect x="1167.25" y="1171.03" width="8.4" height="8.4"/><rect x="1173.01" y="1173.03" width="8.4" height="8.4"/><rect x="1178.77" y="1168.23" width="8.4" height="8.4"/><rect x="1184.54" y="1170.23" width="8.4" height="8.4"/><rect x="1190.3" y="1172.23" width="8.4" height="8.4"/><rect x="1196.07" y="1174.24" width="8.4" height="8.4"/><rect x="1201.83" y="1176.24" width="8.4" height="8.4"/><rect x="1207.59" y="1173.03" width="8.4" height="8.4"/><rect x="1213.36" y="1178.24" width="8.4" height="8.4"/><rect x="1219.12" y="1176.24" width="8.4" height="8.4"/><rect x="1224.89" y="1179.44" width="8.4" height="8.4"/><rect x="1230.65" y="1176.24" width="8.4" height="8.4"/><rect x="1236.41" y="1180.24" width="8.4" height="8.4"/><rect x="1242.18" y="1176.24" width="8.4" height="8.4"/><rect x="1247.94" y="1183.04" width="8.4" height="8.4"/><rect x="1253.71" y="1174.24" width="8.4" height="8.4"/><rect x="1259.47" y="1179.44" width="8.4" height="8.4"/><rect x="1265.23" y="1188.25" width="8.4" height="8.4"/><rect x="1271" y="1124.98" width="8.4" height="8.4"/><rect x="1276.76" y="1095.35" width="8.4" height="8.4"/><rect x="1282.52" y="1067.72" width="8.4" height="8.4"/><rect x="1288.29" y="1037.69" width="8.4" height="8.4"/><rect x="1294.05" y="1012.87" width="8.4" height="8.4"/><rect x="1299.82" y="987.24" width="8.4" height="8.4"/><rect x="1305.58" y="966.82" width="8.4" height="8.4"/><rect x="1311.34" y="951.2" width="8.4" height="8.4"/><rect x="1317.11" y="939.19" width="8.4" height="8.4"/><rect x="1322.87" y="929.18" width="8.4" height="8.4"/><rect x="1328.64" y="920.77" width="8.4" height="8.4"/><rect x="1334.4" y="913.56" width="8.4" height="8.4"/><rect x="1340.16" y="907.16" width="8.4" height="8.4"/><rect x="1345.93" y="902.35" width="8.4" height="8.4"/><rect x="1351.69" y="897.15" width="8.4" height="8.4"/><rect x="1357.46" y="892.74" width="8.4" height="8.4"/><rect x="1363.22" y="888.34" width="8.4" height="8.4"/><rect x="1368.98" y="883.93" width="8.4" height="8.4"/><rect x="1374.75" y="880.73" width="8.4" height="8.4"/><rect x="1380.51" y="876.73" width="8.4" height="8.4"/><rect x="1386.28" y="874" width="8.4" height="8.4"/><rect x="1392.04" y="871.77" width="8.4" height="8.4"/><rect x="1397.8" y="869.67" width="8.4" height="8.4"/><rect x="1403.57" y="867.42" width="8.4" height="8.4"/><rect x="1409.33" y="865.15" width="8.4" height="8.4"/><rect x="1415.09" y="863.01" width="8.4" height="8.4"/><rect x="1420.86" y="861.11" width="8.4" height="8.4"/><rect x="1426.62" y="859.42" width="8.4" height="8.4"/><rect x="1432.39" y="857.82" width="8.4" height="8.4"/><rect x="1438.15" y="856.31" width="8.4" height="8.4"/><rect x="1443.91" y="854.89" width="8.4" height="8.4"/><rect x="1449.68" y="853.57" width="8.4" height="8.4"/><rect x="1455.44" y="852.35" width="8.4" height="8.4"/><rect x="1461.21" y="851.23" width="8.4" height="8.4"/><rect x="1466.97" y="850.21" width="8.4" height="8.4"/><rect x="1472.73" y="849.28" width="8.4" height="8.4"/><rect x="1478.5" y="848.42" width="8.4" height="8.4"/><rect x="1484.26" y="847.61" width="8.4" height="8.4"/><rect x="1490.03" y="846.83" width="8.4" height="8.4"/><rect x="1495.79" y="846.06" width="8.4" height="8.4"/><rect x="1501.55" y="845.29" width="8.4" height="8.4"/><rect x="1507.32" y="844.5" width="8.4" height="8.4"/><rect x="1513.08" y="843.71" width="8.4" height="8.4"/><rect x="1518.84" y="842.93" width="8.4" height="8.4"/><rect x="1524.61" y="842.16" width="8.4" height="8.4"/><rect x="1530.37" y="841.42" width="8.4" height="8.4"/><rect x="1536.14" y="840.72" width="8.4" height="8.4"/><rect x="1541.9" y="840.05" width="8.4" height="8.4"/><rect x="1547.66" y="839.42" width="8.4" height="8.4"/><rect x="1553.43" y="838.83" width="8.4" height="8.4"/><rect x="1559.19" y="838.26" width="8.4" height="8.4"/><rect x="1564.96" y="837.71" width="8.4" height="8.4"/><rect x="1570.72" y="837.18" width="8.4" height="8.4"/><rect x="1576.48" y="836.66" width="8.4" height="8.4"/><rect x="1582.25" y="836.14" width="8.4" height="8.4"/><rect x="1588.01" y="835.62" width="8.4" height="8.4"/><rect x="1593.78" y="835.11" width="8.4" height="8.4"/><rect x="1599.54" y="834.61" width="8.4" height="8.4"/><rect x="1605.3" y="834.11" width="8.4" height="8.4"/><rect x="1611.07" y="833.63" width="8.4" height="8.4"/><rect x="1616.83" y="833.15" width="8.4" height="8.4"/><rect x="1622.6" y="832.68" width="8.4" height="8.4"/></g>
<polyline fill="none" stroke="#ee2020" stroke-width="1" points="1050.4,1114.37 1056.17,1120.38 1061.93,1124.38 1067.7,1127.18 1073.46,1129.18 1079.22,1131.59 1084.99,1133.19 1090.75,1135.59 1096.52,1138.39 1102.28,1140.8 1108.04,1152.41 1113.81,1160.42 1119.57,1153.21 1125.34,1145.2 1131.1,1145.2 1136.86,1148.4 1142.63,1154.81 1148.39,1194.05 1154.16,1184.44 1159.92,1169.63 1165.68,1168.42 1171.45,1162.82 1177.21,1159.22 1182.97,1162.82 1188.74,1162.82 1194.5,1161.62 1200.27,1162.42 1206.03,1162.82 1211.79,1165.22 1217.56,1162.82 1223.32,1167.62 1229.09,1168.42 1234.85,1167.62 1240.61,1172.43 1246.38,1162.42 1252.14,1116.77 1257.91,1090.34 1263.67,1063.52 1269.43,1040.29 1275.2,1009.46 1280.96,990.64 1286.72,969.02 1292.49,955.4 1298.25,942.19 1304.02,931.78 1309.78,922.57 1315.54,915.36 1321.31,906.95 1327.07,900.95 1332.84,894.94 1338.6,889.74 1344.36,885.33 1350.13,880.93 1355.89,877.32 1361.66,874.12 1367.42,871.32 1373.18,868.47 1378.95,865.74 1384.71,863.66 1390.48,862.11 1396.24,860.8 1402,859.6 1407.77,858.42 1413.53,857.29 1419.29,856.24 1425.06,855.3 1430.82,854.44 1436.59,853.62 1442.35,852.86 1448.11,852.13 1453.88,851.44 1459.64,850.79 1465.41,850.17 1471.17,849.59 1476.93,849.05 1482.7,848.55 1488.46,848.06 1494.23,847.59 1499.99,847.11 1505.75,846.62 1511.52,846.1 1517.28,845.58 1523.04,845.05 1528.81,844.53 1534.57,844.01 1540.34,843.5 1546.1,843.01 1551.86,842.54 1557.63,842.09 1563.39,841.65 1569.16,841.22 1574.92,840.79 1580.68,840.36 1586.45,839.91 1592.21,839.45 1597.98,838.97 1603.74,838.49 1609.5,838 1615.27,837.5 1621.03,836.99 1626.8,836.48"/>
<g fill="#fff" stroke="#ee2020" stroke-width="1"><circle cx="1050.4" cy="1114.37" r="4.6"/><circle cx="1056.17" cy="1120.38" r="4.6"/><circle cx="1061.93" cy="1124.38" r="4.6"/><circle cx="1067.7" cy="1127.18" r="4.6"/><circle cx="1073.46" cy="1129.18" r="4.6"/><circle cx="1079.22" cy="1131.59" r="4.6"/><circle cx="1084.99" cy="1133.19" r="4.6"/><circle cx="1090.75" cy="1135.59" r="4.6"/><circle cx="1096.52" cy="1138.39" r="4.6"/><circle cx="1102.28" cy="1140.8" r="4.6"/><circle cx="1108.04" cy="1152.41" r="4.6"/><circle cx="1113.81" cy="1160.42" r="4.6"/><circle cx="1119.57" cy="1153.21" r="4.6"/><circle cx="1125.34" cy="1145.2" r="4.6"/><circle cx="1131.1" cy="1145.2" r="4.6"/><circle cx="1136.86" cy="1148.4" r="4.6"/><circle cx="1142.63" cy="1154.81" r="4.6"/><circle cx="1148.39" cy="1194.05" r="4.6"/><circle cx="1154.16" cy="1184.44" r="4.6"/><circle cx="1159.92" cy="1169.63" r="4.6"/><circle cx="1165.68" cy="1168.42" r="4.6"/><circle cx="1171.45" cy="1162.82" r="4.6"/><circle cx="1177.21" cy="1159.22" r="4.6"/><circle cx="1182.97" cy="1162.82" r="4.6"/><circle cx="1188.74" cy="1162.82" r="4.6"/><circle cx="1194.5" cy="1161.62" r="4.6"/><circle cx="1200.27" cy="1162.42" r="4.6"/><circle cx="1206.03" cy="1162.82" r="4.6"/><circle cx="1211.79" cy="1165.22" r="4.6"/><circle cx="1217.56" cy="1162.82" r="4.6"/><circle cx="1223.32" cy="1167.62" r="4.6"/><circle cx="1229.09" cy="1168.42" r="4.6"/><circle cx="1234.85" cy="1167.62" r="4.6"/><circle cx="1240.61" cy="1172.43" r="4.6"/><circle cx="1246.38" cy="1162.42" r="4.6"/><circle cx="1252.14" cy="1116.77" r="4.6"/><circle cx="1257.91" cy="1090.34" r="4.6"/><circle cx="1263.67" cy="1063.52" r="4.6"/><circle cx="1269.43" cy="1040.29" r="4.6"/><circle cx="1275.2" cy="1009.46" r="4.6"/><circle cx="1280.96" cy="990.64" r="4.6"/><circle cx="1286.72" cy="969.02" r="4.6"/><circle cx="1292.49" cy="955.4" r="4.6"/><circle cx="1298.25" cy="942.19" r="4.6"/><circle cx="1304.02" cy="931.78" r="4.6"/><circle cx="1309.78" cy="922.57" r="4.6"/><circle cx="1315.54" cy="915.36" r="4.6"/><circle cx="1321.31" cy="906.95" r="4.6"/><circle cx="1327.07" cy="900.95" r="4.6"/><circle cx="1332.84" cy="894.94" r="4.6"/><circle cx="1338.6" cy="889.74" r="4.6"/><circle cx="1344.36" cy="885.33" r="4.6"/><circle cx="1350.13" cy="880.93" r="4.6"/><circle cx="1355.89" cy="877.32" r="4.6"/><circle cx="1361.66" cy="874.12" r="4.6"/><circle cx="1367.42" cy="871.32" r="4.6"/><circle cx="1373.18" cy="868.47" r="4.6"/><circle cx="1378.95" cy="865.74" r="4.6"/><circle cx="1384.71" cy="863.66" r="4.6"/><circle cx="1390.48" cy="862.11" r="4.6"/><circle cx="1396.24" cy="860.8" r="4.6"/><circle cx="1402" cy="859.6" r="4.6"/><circle cx="1407.77" cy="858.42" r="4.6"/><circle cx="1413.53" cy="857.29" r="4.6"/><circle cx="1419.29" cy="856.24" r="4.6"/><circle cx="1425.06" cy="855.3" r="4.6"/><circle cx="1430.82" cy="854.44" r="4.6"/><circle cx="1436.59" cy="853.62" r="4.6"/><circle cx="1442.35" cy="852.86" r="4.6"/><circle cx="1448.11" cy="852.13" r="4.6"/><circle cx="1453.88" cy="851.44" r="4.6"/><circle cx="1459.64" cy="850.79" r="4.6"/><circle cx="1465.41" cy="850.17" r="4.6"/><circle cx="1471.17" cy="849.59" r="4.6"/><circle cx="1476.93" cy="849.05" r="4.6"/><circle cx="1482.7" cy="848.55" r="4.6"/><circle cx="1488.46" cy="848.06" r="4.6"/><circle cx="1494.23" cy="847.59" r="4.6"/><circle cx="1499.99" cy="847.11" r="4.6"/><circle cx="1505.75" cy="846.62" r="4.6"/><circle cx="1511.52" cy="846.1" r="4.6"/><circle cx="1517.28" cy="845.58" r="4.6"/><circle cx="1523.04" cy="845.05" r="4.6"/><circle cx="1528.81" cy="844.53" r="4.6"/><circle cx="1534.57" cy="844.01" r="4.6"/><circle cx="1540.34" cy="843.5" r="4.6"/><circle cx="1546.1" cy="843.01" r="4.6"/><circle cx="1551.86" cy="842.54" r="4.6"/><circle cx="1557.63" cy="842.09" r="4.6"/><circle cx="1563.39" cy="841.65" r="4.6"/><circle cx="1569.16" cy="841.22" r="4.6"/><circle cx="1574.92" cy="840.79" r="4.6"/><circle cx="1580.68" cy="840.36" r="4.6"/><circle cx="1586.45" cy="839.91" r="4.6"/><circle cx="1592.21" cy="839.45" r="4.6"/><circle cx="1597.98" cy="838.97" r="4.6"/><circle cx="1603.74" cy="838.49" r="4.6"/><circle cx="1609.5" cy="838" r="4.6"/><circle cx="1615.27" cy="837.5" r="4.6"/><circle cx="1621.03" cy="836.99" r="4.6"/><circle cx="1626.8" cy="836.48" r="4.6"/></g>
<polyline fill="none" stroke="#108a10" stroke-width="1" points="1050.4,1099.55 1056.17,1101.56 1061.93,1103.56 1067.7,1105.16 1073.46,1106.36 1079.22,1107.56 1084.99,1108.36 1090.75,1109.16 1096.52,1109.96 1102.28,1110.76 1108.04,1111.97 1113.81,1111.57 1119.57,1111.17 1125.34,1110.76 1131.1,1110.36 1136.86,1109.96 1142.63,1106.36 1148.39,1094.35 1154.16,1082.34 1159.92,1069.92 1165.68,1059.11 1171.45,1049.9 1177.21,1043.09 1182.97,1039.09 1188.74,1017.47 1194.5,1007.86 1200.27,1002.65 1206.03,998.98 1211.79,994.64 1217.56,985.03 1223.32,978.63 1229.09,973.02 1234.85,967.82 1240.61,962.21 1246.38,958.49 1252.14,953.92 1257.91,946.19 1263.67,938.19 1269.43,931.38 1275.2,924.57 1280.96,919.37 1286.72,912.56 1292.49,907.75 1298.25,903.75 1304.02,900.55 1309.78,897.74 1315.54,893.74 1321.31,888.53 1327.07,884.53 1332.84,880.53 1338.6,876.92 1344.36,874.52 1350.13,871.86 1355.89,869.31 1361.66,867.19 1367.42,865.31 1373.18,863.57 1378.95,861.98 1384.71,860.58 1390.48,859.36 1396.24,858.25 1402,857.18 1407.77,856.07 1413.53,854.96 1419.29,853.9 1425.06,852.9 1430.82,851.96 1436.59,851.06 1442.35,850.19 1448.11,849.35 1453.88,848.53 1459.64,847.75 1465.41,846.98 1471.17,846.25 1476.93,845.54 1482.7,844.86 1488.46,844.19 1494.23,843.54 1499.99,842.89 1505.75,842.25 1511.52,841.6 1517.28,840.94 1523.04,840.28 1528.81,839.64 1534.57,839.01 1540.34,838.4 1546.1,837.82 1551.86,837.27 1557.63,836.76 1563.39,836.27 1569.16,835.79 1574.92,835.32 1580.68,834.83 1586.45,834.34 1592.21,833.81 1597.98,833.28 1603.74,832.74 1609.5,832.18 1615.27,831.62 1621.03,831.05 1626.8,830.47"/>
<g fill="#fff" stroke="#108a10" stroke-width="1"><path d="M1050.4 1093.45L1055.9 1102.65H1044.9Z"/><path d="M1056.17 1095.46L1061.67 1104.66H1050.67Z"/><path d="M1061.93 1097.46L1067.43 1106.66H1056.43Z"/><path d="M1067.7 1099.06L1073.2 1108.26H1062.2Z"/><path d="M1073.46 1100.26L1078.96 1109.46H1067.96Z"/><path d="M1079.22 1101.46L1084.72 1110.66H1073.72Z"/><path d="M1084.99 1102.26L1090.49 1111.46H1079.49Z"/><path d="M1090.75 1103.06L1096.25 1112.26H1085.25Z"/><path d="M1096.52 1103.86L1102.02 1113.06H1091.02Z"/><path d="M1102.28 1104.66L1107.78 1113.86H1096.78Z"/><path d="M1108.04 1105.87L1113.54 1115.07H1102.54Z"/><path d="M1113.81 1105.47L1119.31 1114.67H1108.31Z"/><path d="M1119.57 1105.07L1125.07 1114.27H1114.07Z"/><path d="M1125.34 1104.66L1130.84 1113.86H1119.84Z"/><path d="M1131.1 1104.26L1136.6 1113.46H1125.6Z"/><path d="M1136.86 1103.86L1142.36 1113.06H1131.36Z"/><path d="M1142.63 1100.26L1148.13 1109.46H1137.13Z"/><path d="M1148.39 1088.25L1153.89 1097.45H1142.89Z"/><path d="M1154.16 1076.24L1159.66 1085.44H1148.66Z"/><path d="M1159.92 1063.82L1165.42 1073.02H1154.42Z"/><path d="M1165.68 1053.01L1171.18 1062.21H1160.18Z"/><path d="M1171.45 1043.8L1176.95 1053H1165.95Z"/><path d="M1177.21 1036.99L1182.71 1046.19H1171.71Z"/><path d="M1182.97 1032.99L1188.47 1042.19H1177.47Z"/><path d="M1188.74 1011.37L1194.24 1020.57H1183.24Z"/><path d="M1194.5 1001.76L1200 1010.96H1189Z"/><path d="M1200.27 996.55L1205.77 1005.75H1194.77Z"/><path d="M1206.03 992.88L1211.53 1002.08H1200.53Z"/><path d="M1211.79 988.54L1217.29 997.74H1206.29Z"/><path d="M1217.56 978.93L1223.06 988.13H1212.06Z"/><path d="M1223.32 972.53L1228.82 981.73H1217.82Z"/><path d="M1229.09 966.92L1234.59 976.12H1223.59Z"/><path d="M1234.85 961.72L1240.35 970.92H1229.35Z"/><path d="M1240.61 956.11L1246.11 965.31H1235.11Z"/><path d="M1246.38 952.39L1251.88 961.59H1240.88Z"/><path d="M1252.14 947.82L1257.64 957.02H1246.64Z"/><path d="M1257.91 940.09L1263.41 949.29H1252.41Z"/><path d="M1263.67 932.09L1269.17 941.29H1258.17Z"/><path d="M1269.43 925.28L1274.93 934.48H1263.93Z"/><path d="M1275.2 918.47L1280.7 927.67H1269.7Z"/><path d="M1280.96 913.27L1286.46 922.47H1275.46Z"/><path d="M1286.72 906.46L1292.22 915.66H1281.22Z"/><path d="M1292.49 901.65L1297.99 910.85H1286.99Z"/><path d="M1298.25 897.65L1303.75 906.85H1292.75Z"/><path d="M1304.02 894.45L1309.52 903.65H1298.52Z"/><path d="M1309.78 891.64L1315.28 900.84H1304.28Z"/><path d="M1315.54 887.64L1321.04 896.84H1310.04Z"/><path d="M1321.31 882.43L1326.81 891.63H1315.81Z"/><path d="M1327.07 878.43L1332.57 887.63H1321.57Z"/><path d="M1332.84 874.43L1338.34 883.63H1327.34Z"/><path d="M1338.6 870.82L1344.1 880.02H1333.1Z"/><path d="M1344.36 868.42L1349.86 877.62H1338.86Z"/><path d="M1350.13 865.76L1355.63 874.96H1344.63Z"/><path d="M1355.89 863.21L1361.39 872.41H1350.39Z"/><path d="M1361.66 861.09L1367.16 870.29H1356.16Z"/><path d="M1367.42 859.21L1372.92 868.41H1361.92Z"/><path d="M1373.18 857.47L1378.68 866.67H1367.68Z"/><path d="M1378.95 855.88L1384.45 865.08H1373.45Z"/><path d="M1384.71 854.48L1390.21 863.68H1379.21Z"/><path d="M1390.48 853.26L1395.98 862.46H1384.98Z"/><path d="M1396.24 852.15L1401.74 861.35H1390.74Z"/><path d="M1402 851.08L1407.5 860.28H1396.5Z"/><path d="M1407.77 849.97L1413.27 859.17H1402.27Z"/><path d="M1413.53 848.86L1419.03 858.06H1408.03Z"/><path d="M1419.29 847.8L1424.79 857H1413.79Z"/><path d="M1425.06 846.8L1430.56 856H1419.56Z"/><path d="M1430.82 845.86L1436.32 855.06H1425.32Z"/><path d="M1436.59 844.96L1442.09 854.16H1431.09Z"/><path d="M1442.35 844.09L1447.85 853.29H1436.85Z"/><path d="M1448.11 843.25L1453.61 852.45H1442.61Z"/><path d="M1453.88 842.43L1459.38 851.63H1448.38Z"/><path d="M1459.64 841.65L1465.14 850.85H1454.14Z"/><path d="M1465.41 840.88L1470.91 850.08H1459.91Z"/><path d="M1471.17 840.15L1476.67 849.35H1465.67Z"/><path d="M1476.93 839.44L1482.43 848.64H1471.43Z"/><path d="M1482.7 838.76L1488.2 847.96H1477.2Z"/><path d="M1488.46 838.09L1493.96 847.29H1482.96Z"/><path d="M1494.23 837.44L1499.73 846.64H1488.73Z"/><path d="M1499.99 836.79L1505.49 845.99H1494.49Z"/><path d="M1505.75 836.15L1511.25 845.35H1500.25Z"/><path d="M1511.52 835.5L1517.02 844.7H1506.02Z"/><path d="M1517.28 834.84L1522.78 844.04H1511.78Z"/><path d="M1523.04 834.18L1528.54 843.38H1517.54Z"/><path d="M1528.81 833.54L1534.31 842.74H1523.31Z"/><path d="M1534.57 832.91L1540.07 842.11H1529.07Z"/><path d="M1540.34 832.3L1545.84 841.5H1534.84Z"/><path d="M1546.1 831.72L1551.6 840.92H1540.6Z"/><path d="M1551.86 831.17L1557.36 840.37H1546.36Z"/><path d="M1557.63 830.66L1563.13 839.86H1552.13Z"/><path d="M1563.39 830.17L1568.89 839.37H1557.89Z"/><path d="M1569.16 829.69L1574.66 838.89H1563.66Z"/><path d="M1574.92 829.22L1580.42 838.42H1569.42Z"/><path d="M1580.68 828.73L1586.18 837.93H1575.18Z"/><path d="M1586.45 828.24L1591.95 837.44H1580.95Z"/><path d="M1592.21 827.71L1597.71 836.91H1586.71Z"/><path d="M1597.98 827.18L1603.48 836.38H1592.48Z"/><path d="M1603.74 826.64L1609.24 835.84H1598.24Z"/><path d="M1609.5 826.08L1615 835.28H1604Z"/><path d="M1615.27 825.52L1620.77 834.72H1609.77Z"/><path d="M1621.03 824.95L1626.53 834.15H1615.53Z"/><path d="M1626.8 824.37L1632.3 833.57H1621.3Z"/></g>
<polyline fill="none" stroke="#1414e6" stroke-width="1" points="1050.4,971.42 1056.17,965.01 1061.93,962.21 1067.7,960.21 1073.46,958.61 1079.22,957 1084.99,963.41 1090.75,954.2 1096.52,951.64 1102.28,950.12 1108.04,949 1113.81,948.02 1119.57,947.28 1125.34,946.61 1131.1,945.9 1136.86,944.99 1142.63,943.76 1148.39,942.25 1154.16,940.59 1159.92,938.93 1165.68,937.38 1171.45,936.01 1177.21,934.71 1182.97,933.42 1188.74,932.07 1194.5,930.58 1200.27,929.09 1206.03,926.97 1211.79,921.77 1217.56,919.37 1223.32,916.16 1229.09,918.97 1234.85,912.16 1240.61,908.95 1246.38,905.75 1252.14,902.55 1257.91,899.29 1263.67,896.14 1269.43,893.29 1275.2,890.54 1280.96,887.73 1286.72,885.68 1292.49,883.73 1298.25,881.44 1304.02,878.99 1309.78,876.42 1315.54,873.69 1321.31,870.92 1327.07,868.05 1332.84,865.31 1338.6,862.91 1344.36,860.81 1350.13,858.99 1355.89,857.31 1361.66,855.7 1367.42,854.14 1373.18,852.63 1378.95,851.17 1384.71,849.73 1390.48,848.3 1396.24,846.9 1402,845.59 1407.77,844.42 1413.53,843.33 1419.29,842.3 1425.06,841.28 1430.82,840.27 1436.59,839.25 1442.35,838.24 1448.11,837.26 1453.88,836.31 1459.64,835.41 1465.41,834.58 1471.17,833.81 1476.93,833.09 1482.7,832.4 1488.46,831.75 1494.23,831.11 1499.99,830.47 1505.75,829.83 1511.52,829.18 1517.28,828.54 1523.04,827.89 1528.81,827.26 1534.57,826.63 1540.34,826.02 1546.1,825.42 1551.86,824.83 1557.63,824.27 1563.39,823.71 1569.16,823.17 1574.92,822.63 1580.68,822.08 1586.45,821.54 1592.21,820.99 1597.98,820.43 1603.74,819.88 1609.5,819.32 1615.27,818.77 1621.03,818.22 1626.8,817.66"/>
<g fill="#fff" stroke="#1414e6" stroke-width="1"><path d="M1050.4 977.52L1055.9 968.32H1044.9Z"/><path d="M1056.17 971.11L1061.67 961.91H1050.67Z"/><path d="M1061.93 968.31L1067.43 959.11H1056.43Z"/><path d="M1067.7 966.31L1073.2 957.11H1062.2Z"/><path d="M1073.46 964.71L1078.96 955.51H1067.96Z"/><path d="M1079.22 963.11L1084.72 953.9H1073.72Z"/><path d="M1084.99 969.51L1090.49 960.31H1079.49Z"/><path d="M1090.75 960.3L1096.25 951.1H1085.25Z"/><path d="M1096.52 957.74L1102.02 948.54H1091.02Z"/><path d="M1102.28 956.22L1107.78 947.02H1096.78Z"/><path d="M1108.04 955.1L1113.54 945.9H1102.54Z"/><path d="M1113.81 954.12L1119.31 944.92H1108.31Z"/><path d="M1119.57 953.38L1125.07 944.18H1114.07Z"/><path d="M1125.34 952.71L1130.84 943.51H1119.84Z"/><path d="M1131.1 952L1136.6 942.8H1125.6Z"/><path d="M1136.86 951.09L1142.36 941.89H1131.36Z"/><path d="M1142.63 949.86L1148.13 940.66H1137.13Z"/><path d="M1148.39 948.35L1153.89 939.15H1142.89Z"/><path d="M1154.16 946.69L1159.66 937.49H1148.66Z"/><path d="M1159.92 945.03L1165.42 935.83H1154.42Z"/><path d="M1165.68 943.48L1171.18 934.28H1160.18Z"/><path d="M1171.45 942.11L1176.95 932.91H1165.95Z"/><path d="M1177.21 940.81L1182.71 931.61H1171.71Z"/><path d="M1182.97 939.52L1188.47 930.32H1177.47Z"/><path d="M1188.74 938.17L1194.24 928.97H1183.24Z"/><path d="M1194.5 936.68L1200 927.48H1189Z"/><path d="M1200.27 935.19L1205.77 925.99H1194.77Z"/><path d="M1206.03 933.07L1211.53 923.87H1200.53Z"/><path d="M1211.79 927.87L1217.29 918.67H1206.29Z"/><path d="M1217.56 925.47L1223.06 916.27H1212.06Z"/><path d="M1223.32 922.26L1228.82 913.06H1217.82Z"/><path d="M1229.09 925.07L1234.59 915.87H1223.59Z"/><path d="M1234.85 918.26L1240.35 909.06H1229.35Z"/><path d="M1240.61 915.05L1246.11 905.85H1235.11Z"/><path d="M1246.38 911.85L1251.88 902.65H1240.88Z"/><path d="M1252.14 908.65L1257.64 899.45H1246.64Z"/><path d="M1257.91 905.39L1263.41 896.19H1252.41Z"/><path d="M1263.67 902.24L1269.17 893.04H1258.17Z"/><path d="M1269.43 899.39L1274.93 890.19H1263.93Z"/><path d="M1275.2 896.64L1280.7 887.44H1269.7Z"/><path d="M1280.96 893.83L1286.46 884.63H1275.46Z"/><path d="M1286.72 891.78L1292.22 882.58H1281.22Z"/><path d="M1292.49 889.83L1297.99 880.63H1286.99Z"/><path d="M1298.25 887.54L1303.75 878.34H1292.75Z"/><path d="M1304.02 885.09L1309.52 875.89H1298.52Z"/><path d="M1309.78 882.52L1315.28 873.32H1304.28Z"/><path d="M1315.54 879.79L1321.04 870.59H1310.04Z"/><path d="M1321.31 877.02L1326.81 867.82H1315.81Z"/><path d="M1327.07 874.15L1332.57 864.95H1321.57Z"/><path d="M1332.84 871.41L1338.34 862.21H1327.34Z"/><path d="M1338.6 869.01L1344.1 859.81H1333.1Z"/><path d="M1344.36 866.91L1349.86 857.71H1338.86Z"/><path d="M1350.13 865.09L1355.63 855.89H1344.63Z"/><path d="M1355.89 863.41L1361.39 854.21H1350.39Z"/><path d="M1361.66 861.8L1367.16 852.6H1356.16Z"/><path d="M1367.42 860.24L1372.92 851.04H1361.92Z"/><path d="M1373.18 858.73L1378.68 849.53H1367.68Z"/><path d="M1378.95 857.27L1384.45 848.07H1373.45Z"/><path d="M1384.71 855.83L1390.21 846.63H1379.21Z"/><path d="M1390.48 854.4L1395.98 845.2H1384.98Z"/><path d="M1396.24 853L1401.74 843.8H1390.74Z"/><path d="M1402 851.69L1407.5 842.49H1396.5Z"/><path d="M1407.77 850.52L1413.27 841.32H1402.27Z"/><path d="M1413.53 849.43L1419.03 840.23H1408.03Z"/><path d="M1419.29 848.4L1424.79 839.2H1413.79Z"/><path d="M1425.06 847.38L1430.56 838.18H1419.56Z"/><path d="M1430.82 846.37L1436.32 837.17H1425.32Z"/><path d="M1436.59 845.35L1442.09 836.15H1431.09Z"/><path d="M1442.35 844.34L1447.85 835.14H1436.85Z"/><path d="M1448.11 843.36L1453.61 834.16H1442.61Z"/><path d="M1453.88 842.41L1459.38 833.21H1448.38Z"/><path d="M1459.64 841.51L1465.14 832.31H1454.14Z"/><path d="M1465.41 840.68L1470.91 831.48H1459.91Z"/><path d="M1471.17 839.91L1476.67 830.71H1465.67Z"/><path d="M1476.93 839.19L1482.43 829.99H1471.43Z"/><path d="M1482.7 838.5L1488.2 829.3H1477.2Z"/><path d="M1488.46 837.85L1493.96 828.65H1482.96Z"/><path d="M1494.23 837.21L1499.73 828.01H1488.73Z"/><path d="M1499.99 836.57L1505.49 827.37H1494.49Z"/><path d="M1505.75 835.93L1511.25 826.73H1500.25Z"/><path d="M1511.52 835.28L1517.02 826.08H1506.02Z"/><path d="M1517.28 834.64L1522.78 825.44H1511.78Z"/><path d="M1523.04 833.99L1528.54 824.79H1517.54Z"/><path d="M1528.81 833.36L1534.31 824.16H1523.31Z"/><path d="M1534.57 832.73L1540.07 823.53H1529.07Z"/><path d="M1540.34 832.12L1545.84 822.92H1534.84Z"/><path d="M1546.1 831.52L1551.6 822.32H1540.6Z"/><path d="M1551.86 830.93L1557.36 821.73H1546.36Z"/><path d="M1557.63 830.37L1563.13 821.17H1552.13Z"/><path d="M1563.39 829.81L1568.89 820.61H1557.89Z"/><path d="M1569.16 829.27L1574.66 820.07H1563.66Z"/><path d="M1574.92 828.73L1580.42 819.53H1569.42Z"/><path d="M1580.68 828.18L1586.18 818.98H1575.18Z"/><path d="M1586.45 827.64L1591.95 818.44H1580.95Z"/><path d="M1592.21 827.09L1597.71 817.89H1586.71Z"/><path d="M1597.98 826.53L1603.48 817.33H1592.48Z"/><path d="M1603.74 825.98L1609.24 816.78H1598.24Z"/><path d="M1609.5 825.42L1615 816.22H1604Z"/><path d="M1615.27 824.87L1620.77 815.67H1609.77Z"/><path d="M1621.03 824.32L1626.53 815.12H1615.53Z"/><path d="M1626.8 823.76L1632.3 814.56H1621.3Z"/></g>
</g>
<text x="1033.31" y="772.9" text-anchor="end" font-size="36.18">10<tspan font-size="22.12" dx="-1.7" dy="-19.01">-2</tspan></text>
<text x="1033.31" y="852.98" text-anchor="end" font-size="36.18">10<tspan font-size="22.12" dx="-1.7" dy="-19.01">-4</tspan></text>
<text x="1033.31" y="933.07" text-anchor="end" font-size="36.18">10<tspan font-size="22.12" dx="-1.7" dy="-19.01">-6</tspan></text>
<text x="1033.31" y="1013.15" text-anchor="end" font-size="36.18">10<tspan font-size="22.12" dx="-1.7" dy="-19.01">-8</tspan></text>
<text x="1033.31" y="1093.23" text-anchor="end" font-size="36.18">10<tspan font-size="22.12" dx="-1.7" dy="-19.01">-10</tspan></text>
<text x="1033.31" y="1173.32" text-anchor="end" font-size="36.18">10<tspan font-size="22.12" dx="-1.7" dy="-19.01">-12</tspan></text>
<text x="1033.31" y="1253.4" text-anchor="end" font-size="36.18">10<tspan font-size="22.12" dx="-1.7" dy="-19.01">-14</tspan></text>
<text x="1050.4" y="1277.85" text-anchor="middle" font-size="36.18">-40</text>
<text x="1122.45" y="1277.85" text-anchor="middle" font-size="36.18">-30</text>
<text x="1194.5" y="1277.85" text-anchor="middle" font-size="36.18">-20</text>
<text x="1266.55" y="1277.85" text-anchor="middle" font-size="36.18">-10</text>
<text x="1338.6" y="1277.85" text-anchor="middle" font-size="36.18">0</text>
<text x="1410.65" y="1277.85" text-anchor="middle" font-size="36.18">10</text>
<text x="1482.7" y="1277.85" text-anchor="middle" font-size="36.18">20</text>
<text x="1554.75" y="1277.85" text-anchor="middle" font-size="36.18">30</text>
<text x="1626.8" y="1277.85" text-anchor="middle" font-size="36.18">40</text>
<text x="193.5" y="77.6" font-size="21.5" font-weight="bold" stroke="#000" stroke-width="0.45">Light power: 160 <tspan font-family="Liberation Serif, serif" font-weight="normal" stroke-width="0.2">&#956;</tspan>W/cm<tspan font-size="13.5" dy="-12.4">2</tspan></text>
<text x="195" y="109.5" font-size="21.5" font-weight="bold" fill="#e619e6" stroke="#e619e6" stroke-width="0.5">L / W =400 <tspan font-family="Liberation Serif, serif" font-weight="normal" stroke-width="0.2">&#956;</tspan>m/800 <tspan font-family="Liberation Serif, serif" font-weight="normal" stroke-width="0.2">&#956;</tspan>m</text>
<text x="194.8" y="136.8" font-size="21.5" font-weight="bold" stroke="#000" stroke-width="0.45">V<tspan font-size="12.5" dy="8.3">D</tspan><tspan dy="-8.3">= 10V</tspan></text>
<text x="1049.5" y="77.6" font-size="21.5" font-weight="bold" stroke="#000" stroke-width="0.45">Light power: 160 <tspan font-family="Liberation Serif, serif" font-weight="normal" stroke-width="0.2">&#956;</tspan>W/cm<tspan font-size="13.5" dy="-12.4">2</tspan></text>
<text x="1051" y="109.5" font-size="21.5" font-weight="bold" fill="#e619e6" stroke="#e619e6" stroke-width="0.5">L / W =200 <tspan font-family="Liberation Serif, serif" font-weight="normal" stroke-width="0.2">&#956;</tspan>m/400 <tspan font-family="Liberation Serif, serif" font-weight="normal" stroke-width="0.2">&#956;</tspan>m</text>
<text x="1050.8" y="136.8" font-size="21.5" font-weight="bold" stroke="#000" stroke-width="0.45">V<tspan font-size="12.5" dy="8.3">D</tspan><tspan dy="-8.3">= 10V</tspan></text>
<text x="203.5" y="794.8" font-size="21.13" font-weight="bold" stroke="#000" stroke-width="0.45">Light power: 160 <tspan font-family="Liberation Serif, serif" font-weight="normal" stroke-width="0.2">&#956;</tspan>W/cm<tspan font-size="13.27" dy="-12.19">2</tspan></text>
<text x="205" y="825.8" font-size="21.13" font-weight="bold" fill="#e619e6" stroke="#e619e6" stroke-width="0.5">L / W =100 <tspan font-family="Liberation Serif, serif" font-weight="normal" stroke-width="0.2">&#956;</tspan>m/200 <tspan font-family="Liberation Serif, serif" font-weight="normal" stroke-width="0.2">&#956;</tspan>m</text>
<text x="204.8" y="853.6" font-size="21.13" font-weight="bold" stroke="#000" stroke-width="0.45">V<tspan font-size="12.29" dy="8.16">D</tspan><tspan dy="-8.16">= 10V</tspan></text>
<text x="1062.8" y="799" font-size="20.96" font-weight="bold" stroke="#000" stroke-width="0.45">Light power: 160 <tspan font-family="Liberation Serif, serif" font-weight="normal" stroke-width="0.2">&#956;</tspan>W/cm<tspan font-size="13.16" dy="-12.09">2</tspan></text>
<text x="1064.3" y="829.8" font-size="20.96" font-weight="bold" fill="#e619e6" stroke="#e619e6" stroke-width="0.5">L / W =40 <tspan font-family="Liberation Serif, serif" font-weight="normal" stroke-width="0.2">&#956;</tspan>m/80 <tspan font-family="Liberation Serif, serif" font-weight="normal" stroke-width="0.2">&#956;</tspan>m</text>
<text x="1064.1" y="856.6" font-size="20.96" font-weight="bold" stroke="#000" stroke-width="0.45">V<tspan font-size="12.19" dy="8.09">D</tspan><tspan dy="-8.09">= 10V</tspan></text>
<line x1="481.3" y1="413.6" x2="515.6" y2="413.6" stroke="#000000" stroke-width="1"/>
<g fill="#fff" stroke="#000000" stroke-width="1"><rect x="494.25" y="409.4" width="8.4" height="8.4"/></g>
<text x="518.8" y="418.6" font-size="24.8" font-weight="bold" fill="#000000" stroke="#000000" stroke-width="0.35">Dark</text>
<line x1="481.3" y1="444.2" x2="515.6" y2="444.2" stroke="#ee2020" stroke-width="1"/>
<g fill="#fff" stroke="#ee2020" stroke-width="1"><circle cx="498.45" cy="444.2" r="4.6"/></g>
<text x="518.8" y="449.7" font-size="24.8" font-weight="bold" fill="#e60000" stroke="#e60000" stroke-width="0.35">Red light (640 nm)</text>
<line x1="481.3" y1="475.1" x2="515.6" y2="475.1" stroke="#108a10" stroke-width="1"/>
<g fill="#fff" stroke="#108a10" stroke-width="1"><path d="M498.45 469L503.95 478.2H492.95Z"/></g>
<text x="518.8" y="480.7" font-size="24.8" font-weight="bold" fill="#007a00" stroke="#007a00" stroke-width="0.35">Green light (540 nm)</text>
<line x1="481.3" y1="506" x2="515.6" y2="506" stroke="#1414e6" stroke-width="1"/>
<g fill="#fff" stroke="#1414e6" stroke-width="1"><path d="M498.45 512.1L503.95 502.9H492.95Z"/></g>
<text x="518.8" y="510.2" font-size="24.8" font-weight="bold" fill="#0000e0" stroke="#0000e0" stroke-width="0.35">Blue light (460 nm)</text>
<line x1="1348.8" y1="413.6" x2="1383.5" y2="413.6" stroke="#000000" stroke-width="1"/>
<g fill="#fff" stroke="#000000" stroke-width="1"><rect x="1361.95" y="409.4" width="8.4" height="8.4"/></g>
<text x="1386.7" y="418.6" font-size="24.7" font-weight="bold" fill="#000000" stroke="#000000" stroke-width="0.35">Dark</text>
<line x1="1348.8" y1="444.2" x2="1383.5" y2="444.2" stroke="#ee2020" stroke-width="1"/>
<g fill="#fff" stroke="#ee2020" stroke-width="1"><circle cx="1366.15" cy="444.2" r="4.6"/></g>
<text x="1386.7" y="449.7" font-size="24.7" font-weight="bold" fill="#e60000" stroke="#e60000" stroke-width="0.35">Red light (640 nm)</text>
<line x1="1348.8" y1="475.1" x2="1383.5" y2="475.1" stroke="#108a10" stroke-width="1"/>
<g fill="#fff" stroke="#108a10" stroke-width="1"><path d="M1366.15 469L1371.65 478.2H1360.65Z"/></g>
<text x="1386.7" y="480.7" font-size="24.7" font-weight="bold" fill="#007a00" stroke="#007a00" stroke-width="0.35">Green light (540 nm)</text>
<line x1="1348.8" y1="506" x2="1383.5" y2="506" stroke="#1414e6" stroke-width="1"/>
<g fill="#fff" stroke="#1414e6" stroke-width="1"><path d="M1366.15 512.1L1371.65 502.9H1360.65Z"/></g>
<text x="1386.7" y="510.2" font-size="24.7" font-weight="bold" fill="#0000e0" stroke="#0000e0" stroke-width="0.35">Blue light (460 nm)</text>
<line x1="497.8" y1="1126" x2="531.7" y2="1126" stroke="#000000" stroke-width="1"/>
<g fill="#fff" stroke="#000000" stroke-width="1"><rect x="510.55" y="1121.8" width="8.4" height="8.4"/></g>
<text x="534.9" y="1131" font-size="24.3" font-weight="bold" fill="#000000" stroke="#000000" stroke-width="0.35">Dark</text>
<line x1="497.8" y1="1155.6" x2="531.7" y2="1155.6" stroke="#ee2020" stroke-width="1"/>
<g fill="#fff" stroke="#ee2020" stroke-width="1"><circle cx="514.75" cy="1155.6" r="4.6"/></g>
<text x="534.9" y="1161.1" font-size="24.3" font-weight="bold" fill="#e60000" stroke="#e60000" stroke-width="0.35">Red light (640 nm)</text>
<line x1="497.8" y1="1186.1" x2="531.7" y2="1186.1" stroke="#108a10" stroke-width="1"/>
<g fill="#fff" stroke="#108a10" stroke-width="1"><path d="M514.75 1180L520.25 1189.2H509.25Z"/></g>
<text x="534.9" y="1191.7" font-size="24.3" font-weight="bold" fill="#007a00" stroke="#007a00" stroke-width="0.35">Green light (540 nm)</text>
<line x1="497.8" y1="1217.5" x2="531.7" y2="1217.5" stroke="#1414e6" stroke-width="1"/>
<g fill="#fff" stroke="#1414e6" stroke-width="1"><path d="M514.75 1223.6L520.25 1214.4H509.25Z"/></g>
<text x="534.9" y="1221.7" font-size="24.3" font-weight="bold" fill="#0000e0" stroke="#0000e0" stroke-width="0.35">Blue light (460 nm)</text>
<line x1="1343.2" y1="1124.7" x2="1376.6" y2="1124.7" stroke="#000000" stroke-width="1"/>
<g fill="#fff" stroke="#000000" stroke-width="1"><rect x="1355.7" y="1120.5" width="8.4" height="8.4"/></g>
<text x="1379.6" y="1129.7" font-size="24.1" font-weight="bold" fill="#000000" stroke="#000000" stroke-width="0.35">Dark</text>
<line x1="1343.2" y1="1154.2" x2="1376.6" y2="1154.2" stroke="#ee2020" stroke-width="1"/>
<g fill="#fff" stroke="#ee2020" stroke-width="1"><circle cx="1359.9" cy="1154.2" r="4.6"/></g>
<text x="1379.6" y="1159.7" font-size="24.1" font-weight="bold" fill="#e60000" stroke="#e60000" stroke-width="0.35">Red light (640 nm)</text>
<line x1="1343.2" y1="1182.7" x2="1376.6" y2="1182.7" stroke="#108a10" stroke-width="1"/>
<g fill="#fff" stroke="#108a10" stroke-width="1"><path d="M1359.9 1176.6L1365.4 1185.8H1354.4Z"/></g>
<text x="1379.6" y="1188.3" font-size="24.1" font-weight="bold" fill="#007a00" stroke="#007a00" stroke-width="0.35">Green light (540 nm)</text>
<line x1="1343.2" y1="1214.5" x2="1376.6" y2="1214.5" stroke="#1414e6" stroke-width="1"/>
<g fill="#fff" stroke="#1414e6" stroke-width="1"><path d="M1359.9 1220.6L1365.4 1211.4H1354.4Z"/></g>
<text x="1379.6" y="1218.7" font-size="24.1" font-weight="bold" fill="#0000e0" stroke="#0000e0" stroke-width="0.35">Blue light (460 nm)</text>
<text transform="translate(67.8 345.8) rotate(-90)" font-size="37.1" font-weight="bold">I<tspan font-size="22.26" dy="15.58" stroke="#000" stroke-width="0.3">DS</tspan><tspan dy="-15.58"> (A)</tspan></text>
<text transform="translate(920.2 368.2) rotate(-90)" font-size="37.1" font-weight="bold">I<tspan font-size="22.26" dy="15.58" stroke="#000" stroke-width="0.3">DS</tspan><tspan dy="-15.58"> (A)</tspan></text>
<text transform="translate(77.2 1080) rotate(-90)" font-size="36.62" font-weight="bold">I<tspan font-size="21.97" dy="15.38" stroke="#000" stroke-width="0.3">DS</tspan><tspan dy="-15.38"> (A)</tspan></text>
<text transform="translate(942 1059.4) rotate(-90)" font-size="36.17" font-weight="bold">I<tspan font-size="21.7" dy="15.19" stroke="#000" stroke-width="0.3">DS</tspan><tspan dy="-15.19"> (A)</tspan></text>
<text x="419.5" y="625.6" font-size="36.0" font-weight="bold">V<tspan font-size="21.5" dx="0.6" dy="14.4" stroke="#000" stroke-width="0.3">GS</tspan><tspan dx="0" dy="-14.4"> (V)</tspan></text>
<text x="1276.8" y="630.4" font-size="36.0" font-weight="bold">V<tspan font-size="21.5" dx="0.6" dy="14.4" stroke="#000" stroke-width="0.3">GS</tspan><tspan dx="0" dy="-14.4"> (V)</tspan></text>
<text x="427.2" y="1338.3" font-size="35.46" font-weight="bold">V<tspan font-size="21.18" dx="0.59" dy="14.18" stroke="#000" stroke-width="0.3">GS</tspan><tspan dx="0" dy="-14.18"> (V)</tspan></text>
<text x="1285.4" y="1332.6" font-size="34.92" font-weight="bold">V<tspan font-size="20.86" dx="0.58" dy="13.97" stroke="#000" stroke-width="0.3">GS</tspan><tspan dx="0" dy="-13.97"> (V)</tspan></text>
<text x="49.5" y="624.2" font-size="36" font-weight="bold">(a)</text>
<text x="906.3" y="622.6" font-size="36" font-weight="bold">(b)</text>
<text x="61.6" y="1332" font-size="36" font-weight="bold">(c)</text>
<text x="922.9" y="1329" font-size="36" font-weight="bold">(d)</text>
<text x="0" y="33.3" font-size="48" font-weight="bold" font-family="Liberation Serif, serif">A</text>
<text x="830.5" y="33.1" font-size="48" font-weight="bold" font-family="Liberation Serif, serif">B</text>
<text x="0.5" y="732.4" font-size="48" font-weight="bold" font-family="Liberation Serif, serif">C</text>
<text x="830.7" y="727.9" font-size="48" font-weight="bold" font-family="Liberation Serif, serif">D</text>
</svg>
</body></html>
